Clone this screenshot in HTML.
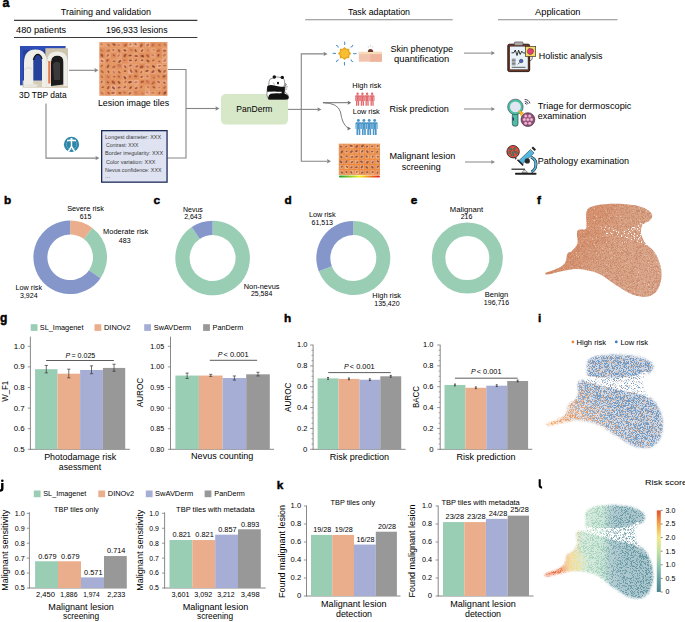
<!DOCTYPE html>
<html><head><meta charset="utf-8"><style>
html,body{margin:0;padding:0;background:#fff;}
svg{display:block;}
text{font-family:"Liberation Sans", sans-serif;}
</style></head><body>
<svg width="685" height="622" viewBox="0 0 685 622">
<rect width="685" height="622" fill="#fff"/>
<text x="2.40" y="7.00" font-size="12.5" font-weight="bold" fill="#000" stroke="#000" stroke-width="0.45">a</text>
<text x="60.80" y="15.30" font-size="9" textLength="90.20" lengthAdjust="spacingAndGlyphs">Training and validation</text>
<line x1="14.00" y1="20.40" x2="197.40" y2="20.40" stroke="#3a3a3a" stroke-width="1.1"/>
<text x="16.10" y="32.60" font-size="9" textLength="50.10" lengthAdjust="spacingAndGlyphs">480 patients</text>
<text x="106.00" y="32.60" font-size="9" textLength="61.60" lengthAdjust="spacingAndGlyphs">196,933 lesions</text>
<line x1="14.00" y1="37.50" x2="197.40" y2="37.50" stroke="#3a3a3a" stroke-width="1.1"/>
<g>
<rect x="20.00" y="46.00" width="45.60" height="39.30" fill="#2f4db6"/>
<rect x="23.00" y="50.00" width="40.00" height="33.00" fill="#27409a"/>
<rect x="45.40" y="48.20" width="22.60" height="39.50" fill="#cfc5ae"/>
<rect x="22.70" y="80.50" width="45.30" height="7.20" fill="#d6cdb8"/>
<path d="M24,87 L24,63 Q24,49.4 35.5,49.4 Q46.8,49.4 46.8,62 L46.8,87 L42,87 L42,62 Q42,54.5 37.6,54.5 Q33.3,54.5 33.3,62 L33.3,87 Z" fill="#efeee9"/>
<path d="M33.4,60 Q35,53.5 39,54.6 Q41.5,55.8 42,59" fill="none" stroke="#151515" stroke-width="1.3"/>
<path d="M24.2,70 Q28,66 32,69" fill="none" stroke="#c8c6c0" stroke-width="0.6"/>
<ellipse cx="31" cy="85.5" rx="7" ry="1.6" fill="#e8e6e0"/>
<path d="M51,86 L51,62 Q51,55.5 57.3,55.5 Q63.5,55.5 63.5,62 L63.5,84.5 Z" fill="#1b1b1b"/>
<path d="M53,64 Q56,60 60,63 L60,80 L54,80 Z" fill="#3a3a3a"/>
<path d="M47,87 L47,62 Q47,51.6 57.3,51.6 Q67.6,51.6 67.6,62 L67.6,86 L63.5,86 L63.5,62 Q63.5,55.5 57.3,55.5 Q51,55.5 51,62 L51,87 Z" fill="#eeede8"/>
<rect x="48.20" y="61.00" width="2.20" height="22.50" fill="#e47c52"/>
</g>
<line x1="69.00" y1="70.30" x2="95.00" y2="70.30" stroke="#858585" stroke-width="1.1"/>
<path d="M98.50,70.30 L94.50,72.50 L94.98,70.30 L94.50,68.10 Z" fill="#858585"/>
<text x="19.00" y="98.30" font-size="9" textLength="47.60" lengthAdjust="spacingAndGlyphs">3D TBP data</text>
<defs><filter id="blr" x="-10%" y="-10%" width="120%" height="120%"><feGaussianBlur stdDeviation="0.45"/></filter></defs>
<g>
<rect x="99.40" y="42.10" width="68.00" height="53.60" fill="#e39764"/>
<g filter="url(#blr)">
<rect x="99.75" y="42.45" width="4.97" height="4.66" fill="#eaa676"/>
<rect x="99.75" y="47.81" width="4.97" height="4.66" fill="#e29060"/>
<rect x="99.75" y="53.17" width="4.97" height="4.66" fill="#de8c5c"/>
<rect x="99.75" y="58.53" width="4.97" height="4.66" fill="#ecae8c"/>
<rect x="99.75" y="63.89" width="4.97" height="4.66" fill="#e69c6a"/>
<rect x="99.75" y="69.25" width="4.97" height="4.66" fill="#e69c6a"/>
<rect x="99.75" y="74.61" width="4.97" height="4.66" fill="#e49866"/>
<rect x="99.75" y="79.97" width="4.97" height="4.66" fill="#e8a27a"/>
<rect x="99.75" y="85.33" width="4.97" height="4.66" fill="#e69c6a"/>
<rect x="99.75" y="90.69" width="4.97" height="4.66" fill="#eaa676"/>
<rect x="105.42" y="42.45" width="4.97" height="4.66" fill="#e8a27a"/>
<rect x="105.42" y="47.81" width="4.97" height="4.66" fill="#e69c6a"/>
<rect x="105.42" y="53.17" width="4.97" height="4.66" fill="#e8a27a"/>
<rect x="105.42" y="58.53" width="4.97" height="4.66" fill="#e29060"/>
<rect x="105.42" y="63.89" width="4.97" height="4.66" fill="#e69c6a"/>
<rect x="105.42" y="69.25" width="4.97" height="4.66" fill="#e69c6a"/>
<rect x="105.42" y="74.61" width="4.97" height="4.66" fill="#de8c5c"/>
<rect x="105.42" y="79.97" width="4.97" height="4.66" fill="#de8c5c"/>
<rect x="105.42" y="85.33" width="4.97" height="4.66" fill="#e69c6a"/>
<rect x="105.42" y="90.69" width="4.97" height="4.66" fill="#e29060"/>
<rect x="111.08" y="42.45" width="4.97" height="4.66" fill="#e69c6a"/>
<rect x="111.08" y="47.81" width="4.97" height="4.66" fill="#e8a27a"/>
<rect x="111.08" y="53.17" width="4.97" height="4.66" fill="#de8c5c"/>
<rect x="111.08" y="58.53" width="4.97" height="4.66" fill="#e69c6a"/>
<rect x="111.08" y="63.89" width="4.97" height="4.66" fill="#e49866"/>
<rect x="111.08" y="69.25" width="4.97" height="4.66" fill="#e8a27a"/>
<rect x="111.08" y="74.61" width="4.97" height="4.66" fill="#e69c6a"/>
<rect x="111.08" y="79.97" width="4.97" height="4.66" fill="#e29060"/>
<rect x="111.08" y="85.33" width="4.97" height="4.66" fill="#ecae8c"/>
<rect x="111.08" y="90.69" width="4.97" height="4.66" fill="#ecae8c"/>
<rect x="116.75" y="42.45" width="4.97" height="4.66" fill="#e8a27a"/>
<rect x="116.75" y="47.81" width="4.97" height="4.66" fill="#e69c6a"/>
<rect x="116.75" y="53.17" width="4.97" height="4.66" fill="#e8a27a"/>
<rect x="116.75" y="58.53" width="4.97" height="4.66" fill="#e8a27a"/>
<rect x="116.75" y="63.89" width="4.97" height="4.66" fill="#de8c5c"/>
<rect x="116.75" y="69.25" width="4.97" height="4.66" fill="#e69c6a"/>
<rect x="116.75" y="74.61" width="4.97" height="4.66" fill="#e29060"/>
<rect x="116.75" y="79.97" width="4.97" height="4.66" fill="#e69c6a"/>
<rect x="116.75" y="85.33" width="4.97" height="4.66" fill="#e8a27a"/>
<rect x="116.75" y="90.69" width="4.97" height="4.66" fill="#e49866"/>
<rect x="122.42" y="42.45" width="4.97" height="4.66" fill="#e29060"/>
<rect x="122.42" y="47.81" width="4.97" height="4.66" fill="#eaa676"/>
<rect x="122.42" y="53.17" width="4.97" height="4.66" fill="#de8c5c"/>
<rect x="122.42" y="58.53" width="4.97" height="4.66" fill="#e29060"/>
<rect x="122.42" y="63.89" width="4.97" height="4.66" fill="#e8a27a"/>
<rect x="122.42" y="69.25" width="4.97" height="4.66" fill="#e69c6a"/>
<rect x="122.42" y="74.61" width="4.97" height="4.66" fill="#e8a27a"/>
<rect x="122.42" y="79.97" width="4.97" height="4.66" fill="#eaa676"/>
<rect x="122.42" y="85.33" width="4.97" height="4.66" fill="#e8a27a"/>
<rect x="122.42" y="90.69" width="4.97" height="4.66" fill="#e49866"/>
<rect x="128.08" y="42.45" width="4.97" height="4.66" fill="#ecae8c"/>
<rect x="128.08" y="47.81" width="4.97" height="4.66" fill="#e29060"/>
<rect x="128.08" y="53.17" width="4.97" height="4.66" fill="#e69c6a"/>
<rect x="128.08" y="58.53" width="4.97" height="4.66" fill="#e8a27a"/>
<rect x="128.08" y="63.89" width="4.97" height="4.66" fill="#e8a27a"/>
<rect x="128.08" y="69.25" width="4.97" height="4.66" fill="#ecae8c"/>
<rect x="128.08" y="74.61" width="4.97" height="4.66" fill="#e29060"/>
<rect x="128.08" y="79.97" width="4.97" height="4.66" fill="#eaa676"/>
<rect x="128.08" y="85.33" width="4.97" height="4.66" fill="#e69c6a"/>
<rect x="128.08" y="90.69" width="4.97" height="4.66" fill="#e8a27a"/>
<rect x="133.75" y="42.45" width="4.97" height="4.66" fill="#ecae8c"/>
<rect x="133.75" y="47.81" width="4.97" height="4.66" fill="#e69c6a"/>
<rect x="133.75" y="53.17" width="4.97" height="4.66" fill="#e8a27a"/>
<rect x="133.75" y="58.53" width="4.97" height="4.66" fill="#e69c6a"/>
<rect x="133.75" y="63.89" width="4.97" height="4.66" fill="#e8a27a"/>
<rect x="133.75" y="69.25" width="4.97" height="4.66" fill="#e29060"/>
<rect x="133.75" y="74.61" width="4.97" height="4.66" fill="#de8c5c"/>
<rect x="133.75" y="79.97" width="4.97" height="4.66" fill="#ecae8c"/>
<rect x="133.75" y="85.33" width="4.97" height="4.66" fill="#e8a27a"/>
<rect x="133.75" y="90.69" width="4.97" height="4.66" fill="#de8c5c"/>
<rect x="139.42" y="42.45" width="4.97" height="4.66" fill="#e49866"/>
<rect x="139.42" y="47.81" width="4.97" height="4.66" fill="#eaa676"/>
<rect x="139.42" y="53.17" width="4.97" height="4.66" fill="#de8c5c"/>
<rect x="139.42" y="58.53" width="4.97" height="4.66" fill="#e8a27a"/>
<rect x="139.42" y="63.89" width="4.97" height="4.66" fill="#de8c5c"/>
<rect x="139.42" y="69.25" width="4.97" height="4.66" fill="#eaa676"/>
<rect x="139.42" y="74.61" width="4.97" height="4.66" fill="#eaa676"/>
<rect x="139.42" y="79.97" width="4.97" height="4.66" fill="#e29060"/>
<rect x="139.42" y="85.33" width="4.97" height="4.66" fill="#e49866"/>
<rect x="139.42" y="90.69" width="4.97" height="4.66" fill="#e29060"/>
<rect x="145.08" y="42.45" width="4.97" height="4.66" fill="#ecae8c"/>
<rect x="145.08" y="47.81" width="4.97" height="4.66" fill="#e49866"/>
<rect x="145.08" y="53.17" width="4.97" height="4.66" fill="#e29060"/>
<rect x="145.08" y="58.53" width="4.97" height="4.66" fill="#e69c6a"/>
<rect x="145.08" y="63.89" width="4.97" height="4.66" fill="#e8a27a"/>
<rect x="145.08" y="69.25" width="4.97" height="4.66" fill="#eaa676"/>
<rect x="145.08" y="74.61" width="4.97" height="4.66" fill="#e8a27a"/>
<rect x="145.08" y="79.97" width="4.97" height="4.66" fill="#de8c5c"/>
<rect x="145.08" y="85.33" width="4.97" height="4.66" fill="#eaa676"/>
<rect x="145.08" y="90.69" width="4.97" height="4.66" fill="#ecae8c"/>
<rect x="150.75" y="42.45" width="4.97" height="4.66" fill="#de8c5c"/>
<rect x="150.75" y="47.81" width="4.97" height="4.66" fill="#eaa676"/>
<rect x="150.75" y="53.17" width="4.97" height="4.66" fill="#e8a27a"/>
<rect x="150.75" y="58.53" width="4.97" height="4.66" fill="#e69c6a"/>
<rect x="150.75" y="63.89" width="4.97" height="4.66" fill="#e69c6a"/>
<rect x="150.75" y="69.25" width="4.97" height="4.66" fill="#e8a27a"/>
<rect x="150.75" y="74.61" width="4.97" height="4.66" fill="#de8c5c"/>
<rect x="150.75" y="79.97" width="4.97" height="4.66" fill="#e29060"/>
<rect x="150.75" y="85.33" width="4.97" height="4.66" fill="#e49866"/>
<rect x="150.75" y="90.69" width="4.97" height="4.66" fill="#eaa676"/>
<rect x="156.42" y="42.45" width="4.97" height="4.66" fill="#e29060"/>
<rect x="156.42" y="47.81" width="4.97" height="4.66" fill="#de8c5c"/>
<rect x="156.42" y="53.17" width="4.97" height="4.66" fill="#de8c5c"/>
<rect x="156.42" y="58.53" width="4.97" height="4.66" fill="#e69c6a"/>
<rect x="156.42" y="63.89" width="4.97" height="4.66" fill="#ecae8c"/>
<rect x="156.42" y="69.25" width="4.97" height="4.66" fill="#e69c6a"/>
<rect x="156.42" y="74.61" width="4.97" height="4.66" fill="#e49866"/>
<rect x="156.42" y="79.97" width="4.97" height="4.66" fill="#e8a27a"/>
<rect x="156.42" y="85.33" width="4.97" height="4.66" fill="#e8a27a"/>
<rect x="156.42" y="90.69" width="4.97" height="4.66" fill="#e49866"/>
<rect x="162.08" y="42.45" width="4.97" height="4.66" fill="#e49866"/>
<rect x="162.08" y="47.81" width="4.97" height="4.66" fill="#eaa676"/>
<rect x="162.08" y="53.17" width="4.97" height="4.66" fill="#eaa676"/>
<rect x="162.08" y="58.53" width="4.97" height="4.66" fill="#ecae8c"/>
<rect x="162.08" y="63.89" width="4.97" height="4.66" fill="#eaa676"/>
<rect x="162.08" y="69.25" width="4.97" height="4.66" fill="#e8a27a"/>
<rect x="162.08" y="74.61" width="4.97" height="4.66" fill="#de8c5c"/>
<rect x="162.08" y="79.97" width="4.97" height="4.66" fill="#e8a27a"/>
<rect x="162.08" y="85.33" width="4.97" height="4.66" fill="#e49866"/>
<rect x="162.08" y="90.69" width="4.97" height="4.66" fill="#de8c5c"/>
<ellipse cx="101.63" cy="44.21" rx="1.42" ry="0.82" transform="rotate(20 101.63 44.21)" fill="#c06a50" opacity="0.75"/>
<ellipse cx="101.62" cy="50.42" rx="1.76" ry="1.01" transform="rotate(39 101.62 50.42)" fill="#c06a50" opacity="0.75"/>
<ellipse cx="101.93" cy="55.34" rx="1.78" ry="1.03" transform="rotate(53 101.93 55.34)" fill="#8a3a25" opacity="0.75"/>
<ellipse cx="102.03" cy="61.02" rx="1.62" ry="0.93" transform="rotate(32 102.03 61.02)" fill="#a0482c" opacity="0.75"/>
<ellipse cx="101.71" cy="65.87" rx="1.53" ry="0.88" transform="rotate(-50 101.71 65.87)" fill="#b05a3a" opacity="0.75"/>
<ellipse cx="102.16" cy="71.65" rx="1.97" ry="1.14" transform="rotate(44 102.16 71.65)" fill="#b05a3a" opacity="0.75"/>
<ellipse cx="101.92" cy="76.82" rx="1.50" ry="0.86" transform="rotate(55 101.92 76.82)" fill="#b05a3a" opacity="0.75"/>
<ellipse cx="101.74" cy="81.85" rx="1.38" ry="0.80" transform="rotate(-59 101.74 81.85)" fill="#a0482c" opacity="0.75"/>
<ellipse cx="102.70" cy="87.22" rx="1.43" ry="0.82" transform="rotate(-10 102.70 87.22)" fill="#a0482c" opacity="0.75"/>
<ellipse cx="102.05" cy="93.11" rx="2.04" ry="1.18" transform="rotate(43 102.05 93.11)" fill="#c06a50" opacity="0.75"/>
<ellipse cx="108.53" cy="45.00" rx="1.84" ry="1.06" transform="rotate(48 108.53 45.00)" fill="#b05a3a" opacity="0.75"/>
<ellipse cx="108.29" cy="50.66" rx="1.90" ry="1.09" transform="rotate(-12 108.29 50.66)" fill="#b05a3a" opacity="0.75"/>
<ellipse cx="107.75" cy="55.47" rx="1.53" ry="0.89" transform="rotate(-52 107.75 55.47)" fill="#a0482c" opacity="0.75"/>
<ellipse cx="107.49" cy="60.39" rx="1.48" ry="0.85" transform="rotate(-48 107.49 60.39)" fill="#8a3a25" opacity="0.75"/>
<ellipse cx="107.99" cy="66.27" rx="2.03" ry="1.17" transform="rotate(-57 107.99 66.27)" fill="#94402a" opacity="0.75"/>
<ellipse cx="108.42" cy="71.74" rx="1.31" ry="0.75" transform="rotate(55 108.42 71.74)" fill="#7a3020" opacity="0.75"/>
<ellipse cx="108.04" cy="76.90" rx="1.27" ry="0.74" transform="rotate(59 108.04 76.90)" fill="#b05a3a" opacity="0.75"/>
<ellipse cx="107.85" cy="82.28" rx="1.25" ry="0.72" transform="rotate(30 107.85 82.28)" fill="#8a3a25" opacity="0.75"/>
<ellipse cx="108.24" cy="87.63" rx="1.80" ry="1.04" transform="rotate(-57 108.24 87.63)" fill="#94402a" opacity="0.75"/>
<ellipse cx="108.53" cy="93.06" rx="1.30" ry="0.75" transform="rotate(50 108.53 93.06)" fill="#94402a" opacity="0.75"/>
<ellipse cx="113.93" cy="44.50" rx="1.76" ry="1.01" transform="rotate(24 113.93 44.50)" fill="#8a3a25" opacity="0.75"/>
<ellipse cx="113.23" cy="49.95" rx="1.32" ry="0.76" transform="rotate(4 113.23 49.95)" fill="#a0482c" opacity="0.75"/>
<ellipse cx="113.96" cy="55.26" rx="1.37" ry="0.79" transform="rotate(37 113.96 55.26)" fill="#a0482c" opacity="0.75"/>
<ellipse cx="114.01" cy="61.20" rx="1.38" ry="0.79" transform="rotate(-1 114.01 61.20)" fill="#94402a" opacity="0.75"/>
<ellipse cx="113.89" cy="66.91" rx="1.89" ry="1.09" transform="rotate(-29 113.89 66.91)" fill="#b05a3a" opacity="0.75"/>
<ellipse cx="113.84" cy="72.22" rx="1.58" ry="0.91" transform="rotate(59 113.84 72.22)" fill="#c06a50" opacity="0.75"/>
<ellipse cx="114.20" cy="76.75" rx="1.37" ry="0.79" transform="rotate(-4 114.20 76.75)" fill="#a0482c" opacity="0.75"/>
<ellipse cx="113.34" cy="82.28" rx="2.07" ry="1.19" transform="rotate(41 113.34 82.28)" fill="#94402a" opacity="0.75"/>
<ellipse cx="113.54" cy="87.87" rx="1.90" ry="1.09" transform="rotate(40 113.54 87.87)" fill="#8a3a25" opacity="0.75"/>
<ellipse cx="113.03" cy="92.86" rx="1.82" ry="1.05" transform="rotate(-3 113.03 92.86)" fill="#a0482c" opacity="0.75"/>
<ellipse cx="118.78" cy="45.18" rx="1.47" ry="0.85" transform="rotate(-12 118.78 45.18)" fill="#c06a50" opacity="0.75"/>
<ellipse cx="119.10" cy="50.77" rx="1.83" ry="1.06" transform="rotate(59 119.10 50.77)" fill="#a0482c" opacity="0.75"/>
<ellipse cx="118.57" cy="55.63" rx="1.59" ry="0.92" transform="rotate(-42 118.57 55.63)" fill="#c06a50" opacity="0.75"/>
<ellipse cx="119.69" cy="61.53" rx="1.77" ry="1.02" transform="rotate(-41 119.69 61.53)" fill="#7a3020" opacity="0.75"/>
<ellipse cx="119.30" cy="65.55" rx="1.90" ry="1.09" transform="rotate(18 119.30 65.55)" fill="#c06a50" opacity="0.75"/>
<ellipse cx="119.27" cy="72.19" rx="1.56" ry="0.90" transform="rotate(39 119.27 72.19)" fill="#a0482c" opacity="0.75"/>
<ellipse cx="118.83" cy="76.59" rx="1.44" ry="0.83" transform="rotate(32 118.83 76.59)" fill="#a0482c" opacity="0.75"/>
<ellipse cx="118.99" cy="82.36" rx="1.93" ry="1.11" transform="rotate(49 118.99 82.36)" fill="#8a3a25" opacity="0.75"/>
<ellipse cx="119.03" cy="87.60" rx="1.70" ry="0.98" transform="rotate(-10 119.03 87.60)" fill="#94402a" opacity="0.75"/>
<ellipse cx="119.82" cy="93.02" rx="1.65" ry="0.95" transform="rotate(1 119.82 93.02)" fill="#94402a" opacity="0.75"/>
<ellipse cx="125.42" cy="45.17" rx="1.72" ry="0.99" transform="rotate(-39 125.42 45.17)" fill="#a0482c" opacity="0.75"/>
<ellipse cx="124.86" cy="50.46" rx="1.68" ry="0.97" transform="rotate(22 124.86 50.46)" fill="#7a3020" opacity="0.75"/>
<ellipse cx="124.94" cy="55.48" rx="1.88" ry="1.08" transform="rotate(-53 124.94 55.48)" fill="#94402a" opacity="0.75"/>
<ellipse cx="124.47" cy="60.22" rx="1.26" ry="0.73" transform="rotate(7 124.47 60.22)" fill="#b05a3a" opacity="0.75"/>
<ellipse cx="125.26" cy="66.80" rx="1.57" ry="0.91" transform="rotate(57 125.26 66.80)" fill="#94402a" opacity="0.75"/>
<ellipse cx="125.05" cy="71.16" rx="1.42" ry="0.82" transform="rotate(4 125.05 71.16)" fill="#94402a" opacity="0.75"/>
<ellipse cx="124.87" cy="77.56" rx="1.81" ry="1.04" transform="rotate(51 124.87 77.56)" fill="#7a3020" opacity="0.75"/>
<ellipse cx="125.45" cy="81.88" rx="1.58" ry="0.91" transform="rotate(-45 125.45 81.88)" fill="#b05a3a" opacity="0.75"/>
<ellipse cx="124.82" cy="87.06" rx="1.39" ry="0.80" transform="rotate(-34 124.82 87.06)" fill="#8a3a25" opacity="0.75"/>
<ellipse cx="124.62" cy="92.49" rx="1.88" ry="1.08" transform="rotate(17 124.62 92.49)" fill="#c06a50" opacity="0.75"/>
<ellipse cx="130.38" cy="44.43" rx="1.29" ry="0.75" transform="rotate(-34 130.38 44.43)" fill="#b05a3a" opacity="0.75"/>
<ellipse cx="131.20" cy="50.00" rx="1.61" ry="0.93" transform="rotate(40 131.20 50.00)" fill="#c06a50" opacity="0.75"/>
<ellipse cx="130.09" cy="55.40" rx="1.64" ry="0.95" transform="rotate(-9 130.09 55.40)" fill="#7a3020" opacity="0.75"/>
<ellipse cx="130.37" cy="60.29" rx="1.50" ry="0.87" transform="rotate(6 130.37 60.29)" fill="#7a3020" opacity="0.75"/>
<ellipse cx="130.48" cy="65.55" rx="1.47" ry="0.85" transform="rotate(-25 130.48 65.55)" fill="#94402a" opacity="0.75"/>
<ellipse cx="131.21" cy="71.04" rx="2.01" ry="1.16" transform="rotate(57 131.21 71.04)" fill="#a0482c" opacity="0.75"/>
<ellipse cx="130.01" cy="76.61" rx="1.21" ry="0.70" transform="rotate(-28 130.01 76.61)" fill="#a0482c" opacity="0.75"/>
<ellipse cx="130.05" cy="82.19" rx="2.00" ry="1.15" transform="rotate(-11 130.05 82.19)" fill="#7a3020" opacity="0.75"/>
<ellipse cx="130.62" cy="87.68" rx="1.62" ry="0.93" transform="rotate(-49 130.62 87.68)" fill="#7a3020" opacity="0.75"/>
<ellipse cx="129.95" cy="93.28" rx="1.56" ry="0.90" transform="rotate(-28 129.95 93.28)" fill="#8a3a25" opacity="0.75"/>
<ellipse cx="135.56" cy="44.20" rx="1.41" ry="0.81" transform="rotate(43 135.56 44.20)" fill="#94402a" opacity="0.75"/>
<ellipse cx="135.63" cy="50.65" rx="1.58" ry="0.91" transform="rotate(59 135.63 50.65)" fill="#7a3020" opacity="0.75"/>
<ellipse cx="136.12" cy="56.08" rx="1.74" ry="1.00" transform="rotate(3 136.12 56.08)" fill="#8a3a25" opacity="0.75"/>
<ellipse cx="135.87" cy="60.31" rx="1.32" ry="0.76" transform="rotate(-38 135.87 60.31)" fill="#8a3a25" opacity="0.75"/>
<ellipse cx="136.84" cy="66.40" rx="1.65" ry="0.95" transform="rotate(-25 136.84 66.40)" fill="#a0482c" opacity="0.75"/>
<ellipse cx="136.23" cy="71.13" rx="1.49" ry="0.86" transform="rotate(59 136.23 71.13)" fill="#8a3a25" opacity="0.75"/>
<ellipse cx="135.59" cy="76.27" rx="1.63" ry="0.94" transform="rotate(2 135.59 76.27)" fill="#a0482c" opacity="0.75"/>
<ellipse cx="135.88" cy="82.23" rx="1.77" ry="1.02" transform="rotate(-8 135.88 82.23)" fill="#c06a50" opacity="0.75"/>
<ellipse cx="136.23" cy="88.13" rx="1.53" ry="0.88" transform="rotate(-23 136.23 88.13)" fill="#94402a" opacity="0.75"/>
<ellipse cx="135.83" cy="92.64" rx="1.35" ry="0.78" transform="rotate(27 135.83 92.64)" fill="#c06a50" opacity="0.75"/>
<ellipse cx="141.40" cy="45.47" rx="2.06" ry="1.19" transform="rotate(-58 141.40 45.47)" fill="#a0482c" opacity="0.75"/>
<ellipse cx="142.08" cy="50.67" rx="1.56" ry="0.90" transform="rotate(-50 142.08 50.67)" fill="#8a3a25" opacity="0.75"/>
<ellipse cx="142.38" cy="56.02" rx="1.78" ry="1.03" transform="rotate(12 142.38 56.02)" fill="#7a3020" opacity="0.75"/>
<ellipse cx="142.17" cy="60.22" rx="1.34" ry="0.77" transform="rotate(-7 142.17 60.22)" fill="#7a3020" opacity="0.75"/>
<ellipse cx="141.57" cy="66.87" rx="2.06" ry="1.19" transform="rotate(-21 141.57 66.87)" fill="#94402a" opacity="0.75"/>
<ellipse cx="141.25" cy="72.12" rx="1.37" ry="0.79" transform="rotate(-60 141.25 72.12)" fill="#a0482c" opacity="0.75"/>
<ellipse cx="141.73" cy="76.90" rx="1.63" ry="0.94" transform="rotate(-30 141.73 76.90)" fill="#a0482c" opacity="0.75"/>
<ellipse cx="142.29" cy="81.73" rx="1.91" ry="1.10" transform="rotate(-12 142.29 81.73)" fill="#a0482c" opacity="0.75"/>
<ellipse cx="141.26" cy="86.99" rx="1.45" ry="0.83" transform="rotate(-50 141.26 86.99)" fill="#a0482c" opacity="0.75"/>
<ellipse cx="142.54" cy="93.51" rx="1.31" ry="0.76" transform="rotate(34 142.54 93.51)" fill="#c06a50" opacity="0.75"/>
<ellipse cx="147.70" cy="45.15" rx="1.83" ry="1.05" transform="rotate(-42 147.70 45.15)" fill="#b05a3a" opacity="0.75"/>
<ellipse cx="147.88" cy="50.34" rx="1.21" ry="0.70" transform="rotate(47 147.88 50.34)" fill="#c06a50" opacity="0.75"/>
<ellipse cx="147.74" cy="55.83" rx="1.91" ry="1.10" transform="rotate(49 147.74 55.83)" fill="#a0482c" opacity="0.75"/>
<ellipse cx="147.92" cy="60.96" rx="1.91" ry="1.10" transform="rotate(39 147.92 60.96)" fill="#8a3a25" opacity="0.75"/>
<ellipse cx="147.68" cy="66.77" rx="1.79" ry="1.03" transform="rotate(17 147.68 66.77)" fill="#c06a50" opacity="0.75"/>
<ellipse cx="146.99" cy="70.94" rx="1.75" ry="1.01" transform="rotate(-15 146.99 70.94)" fill="#8a3a25" opacity="0.75"/>
<ellipse cx="147.50" cy="76.31" rx="1.19" ry="0.68" transform="rotate(22 147.50 76.31)" fill="#94402a" opacity="0.75"/>
<ellipse cx="147.55" cy="81.60" rx="1.90" ry="1.09" transform="rotate(52 147.55 81.60)" fill="#c06a50" opacity="0.75"/>
<ellipse cx="148.12" cy="87.09" rx="1.65" ry="0.95" transform="rotate(28 148.12 87.09)" fill="#c06a50" opacity="0.75"/>
<ellipse cx="147.22" cy="92.42" rx="1.41" ry="0.81" transform="rotate(31 147.22 92.42)" fill="#c06a50" opacity="0.75"/>
<ellipse cx="152.86" cy="44.99" rx="1.59" ry="0.92" transform="rotate(-51 152.86 44.99)" fill="#b05a3a" opacity="0.75"/>
<ellipse cx="153.81" cy="49.84" rx="1.21" ry="0.70" transform="rotate(17 153.81 49.84)" fill="#c06a50" opacity="0.75"/>
<ellipse cx="152.64" cy="55.01" rx="1.40" ry="0.81" transform="rotate(23 152.64 55.01)" fill="#c06a50" opacity="0.75"/>
<ellipse cx="153.40" cy="60.35" rx="1.61" ry="0.93" transform="rotate(-28 153.40 60.35)" fill="#b05a3a" opacity="0.75"/>
<ellipse cx="153.47" cy="66.49" rx="1.78" ry="1.03" transform="rotate(25 153.47 66.49)" fill="#7a3020" opacity="0.75"/>
<ellipse cx="152.93" cy="71.53" rx="1.87" ry="1.08" transform="rotate(-36 152.93 71.53)" fill="#94402a" opacity="0.75"/>
<ellipse cx="153.90" cy="77.55" rx="1.19" ry="0.68" transform="rotate(-51 153.90 77.55)" fill="#b05a3a" opacity="0.75"/>
<ellipse cx="153.24" cy="82.99" rx="2.07" ry="1.20" transform="rotate(-35 153.24 82.99)" fill="#b05a3a" opacity="0.75"/>
<ellipse cx="153.86" cy="87.25" rx="1.70" ry="0.98" transform="rotate(30 153.86 87.25)" fill="#a0482c" opacity="0.75"/>
<ellipse cx="152.90" cy="92.82" rx="1.72" ry="0.99" transform="rotate(1 152.90 92.82)" fill="#c06a50" opacity="0.75"/>
<ellipse cx="159.44" cy="45.06" rx="1.38" ry="0.80" transform="rotate(-13 159.44 45.06)" fill="#b05a3a" opacity="0.75"/>
<ellipse cx="158.42" cy="50.77" rx="1.79" ry="1.03" transform="rotate(-24 158.42 50.77)" fill="#b05a3a" opacity="0.75"/>
<ellipse cx="158.40" cy="55.28" rx="1.46" ry="0.84" transform="rotate(-60 158.40 55.28)" fill="#7a3020" opacity="0.75"/>
<ellipse cx="159.25" cy="61.33" rx="1.28" ry="0.74" transform="rotate(26 159.25 61.33)" fill="#a0482c" opacity="0.75"/>
<ellipse cx="159.46" cy="65.93" rx="1.51" ry="0.87" transform="rotate(-13 159.46 65.93)" fill="#b05a3a" opacity="0.75"/>
<ellipse cx="159.42" cy="70.99" rx="2.01" ry="1.16" transform="rotate(43 159.42 70.99)" fill="#7a3020" opacity="0.75"/>
<ellipse cx="158.59" cy="76.31" rx="1.77" ry="1.02" transform="rotate(52 158.59 76.31)" fill="#c06a50" opacity="0.75"/>
<ellipse cx="158.55" cy="81.97" rx="1.63" ry="0.94" transform="rotate(33 158.55 81.97)" fill="#a0482c" opacity="0.75"/>
<ellipse cx="159.30" cy="87.56" rx="1.20" ry="0.69" transform="rotate(-12 159.30 87.56)" fill="#c06a50" opacity="0.75"/>
<ellipse cx="159.43" cy="93.10" rx="1.36" ry="0.78" transform="rotate(-54 159.43 93.10)" fill="#8a3a25" opacity="0.75"/>
<ellipse cx="164.89" cy="44.71" rx="1.85" ry="1.07" transform="rotate(44 164.89 44.71)" fill="#c06a50" opacity="0.75"/>
<ellipse cx="164.55" cy="50.72" rx="1.67" ry="0.96" transform="rotate(-3 164.55 50.72)" fill="#a0482c" opacity="0.75"/>
<ellipse cx="164.35" cy="55.22" rx="1.84" ry="1.06" transform="rotate(-29 164.35 55.22)" fill="#c06a50" opacity="0.75"/>
<ellipse cx="164.79" cy="60.58" rx="1.68" ry="0.97" transform="rotate(-46 164.79 60.58)" fill="#b05a3a" opacity="0.75"/>
<ellipse cx="164.77" cy="65.63" rx="1.63" ry="0.94" transform="rotate(6 164.77 65.63)" fill="#b05a3a" opacity="0.75"/>
<ellipse cx="164.50" cy="71.35" rx="1.86" ry="1.07" transform="rotate(-43 164.50 71.35)" fill="#b05a3a" opacity="0.75"/>
<ellipse cx="164.14" cy="76.37" rx="1.48" ry="0.85" transform="rotate(-22 164.14 76.37)" fill="#8a3a25" opacity="0.75"/>
<ellipse cx="164.38" cy="82.73" rx="1.35" ry="0.78" transform="rotate(30 164.38 82.73)" fill="#8a3a25" opacity="0.75"/>
<ellipse cx="164.44" cy="87.54" rx="1.65" ry="0.95" transform="rotate(-28 164.44 87.54)" fill="#b05a3a" opacity="0.75"/>
<ellipse cx="164.92" cy="93.02" rx="1.69" ry="0.98" transform="rotate(-45 164.92 93.02)" fill="#7a3020" opacity="0.75"/>
</g></g>
<text x="97.90" y="105.70" font-size="9" textLength="71.20" lengthAdjust="spacingAndGlyphs">Lesion image tiles</text>
<path d="M168,69.5 L186,69.5 L186,158 L167.4,158" fill="none" stroke="#858585" stroke-width="1.1"/>
<line x1="186.00" y1="108.50" x2="216.00" y2="108.50" stroke="#858585" stroke-width="1.1"/>
<path d="M219.50,108.50 L215.50,110.70 L215.98,108.50 L215.50,106.30 Z" fill="#858585"/>
<path d="M46,103.4 L46,158.1 L96,158.1" fill="none" stroke="#858585" stroke-width="1.1"/>
<path d="M99.50,158.10 L95.50,160.30 L95.98,158.10 L95.50,155.90 Z" fill="#858585"/>
<g>
<circle cx="71.5" cy="144.4" r="7.6" fill="#2f86a8"/>
<circle cx="71.5" cy="144.4" r="5.2" fill="none" stroke="#7cc0d4" stroke-width="0.6"/>
<path d="M71.5,138.5 L71.5,147 M67,140.5 L76,140.5 M71.5,146.5 L68.3,151.5 M71.5,146.5 L74.7,151.5" stroke="#fff" stroke-width="1.4" fill="none"/>
<circle cx="71.5" cy="139" r="1.1" fill="#fff"/>
</g>
<rect x="101.65" y="130.65" width="65.40" height="51.50" fill="#dfe3f1" stroke="#1c2c5a" stroke-width="1.3"/>
<text x="105.10" y="138.90" font-size="5.6" textLength="56.00" lengthAdjust="spacingAndGlyphs" fill="#3a3a3a">Longest diameter: XXX</text>
<text x="106.00" y="147.00" font-size="5.6" textLength="32.50" lengthAdjust="spacingAndGlyphs" fill="#3a3a3a">Contrast: XXX</text>
<text x="105.10" y="155.40" font-size="5.6" textLength="58.00" lengthAdjust="spacingAndGlyphs" fill="#3a3a3a">Border irregularity: XXX</text>
<text x="106.00" y="163.80" font-size="5.6" textLength="49.50" lengthAdjust="spacingAndGlyphs" fill="#3a3a3a">Color variation: XXX</text>
<text x="105.10" y="172.00" font-size="5.6" textLength="56.50" lengthAdjust="spacingAndGlyphs" fill="#3a3a3a">Nevus confidence: XXX</text>
<text x="105.10" y="178.30" font-size="5.6" textLength="5.00" lengthAdjust="spacingAndGlyphs" fill="#3a3a3a">...</text>
<rect x="220.9" y="94" width="67.2" height="30.6" rx="5" ry="5" fill="#d6e8c8"/>
<text x="254.40" y="111.70" font-size="9.2" text-anchor="middle" textLength="36.10" lengthAdjust="spacingAndGlyphs">PanDerm</text>
<g>
<path d="M270.2,79 Q276,75.6 282.8,77.6 Q285.6,80.5 284.2,86 L284.8,92 Q288.8,94 288.6,98.3 Q287.8,99.6 284.5,99.4 L270,99.4 Q266.8,98.6 266.9,94.5 Q266.6,88.5 268.8,84.5 Q268.6,81 270.2,79 Z" fill="#fff" stroke="#111" stroke-width="0.45"/>
<circle cx="274.3" cy="77.1" r="1.75" fill="#111"/><circle cx="282.3" cy="77.4" r="1.7" fill="#111"/>
<ellipse cx="278" cy="83.1" rx="1.05" ry="1.35" fill="#111"/>
<path d="M273.2,82.6 Q273.8,84 274.6,84.2" stroke="#111" stroke-width="0.4" fill="none"/>
<path d="M267.3,86.2 Q270.5,84.4 274.5,85.6 Q279.5,87.4 284.4,86.4 L284.6,91.2 Q280,92.2 275,91.6 L267.2,91.8 Q266.9,89 267.3,86.2 Z" fill="#111"/>
<path d="M268.2,99.4 Q267.6,93.6 273,93.2 Q280,92.6 284.2,93.6 Q288.9,94.6 288.6,98.3 Q288.2,99.5 285,99.5 Z" fill="#111"/>
<rect x="281.6" y="87" width="3" height="8.5" rx="1" fill="#111"/>
<path d="M283.8,88.5 L286.8,84 M284.2,87.8 L287.8,86.6 M284,88.8 L287.2,89.2 M285.3,86 L285.6,83" stroke="#222" stroke-width="0.45" fill="none"/>
<path d="M271.5,93.2 Q276,92.7 280,93.1" stroke="#fff" stroke-width="0.5" fill="none"/>
</g>
<line x1="288.10" y1="109.40" x2="318.00" y2="109.40" stroke="#858585" stroke-width="1.1"/>
<path d="M321.50,109.40 L317.50,111.60 L317.98,109.40 L317.50,107.20 Z" fill="#858585"/>
<path d="M324,53.9 L301.3,53.9 L301.3,161.2 L327.5,161.2" fill="none" stroke="#858585" stroke-width="1.1"/>
<path d="M327.60,53.90 L323.60,56.10 L324.08,53.90 L323.60,51.70 Z" fill="#858585"/>
<path d="M331.00,161.20 L327.00,163.40 L327.48,161.20 L327.00,159.00 Z" fill="#858585"/>
<text x="348.00" y="14.80" font-size="9" textLength="62.00" lengthAdjust="spacingAndGlyphs">Task adaptation</text>
<line x1="305.20" y1="19.70" x2="452.70" y2="19.70" stroke="#8a8a8a" stroke-width="1.1"/>
<text x="535.00" y="14.80" font-size="9" textLength="45.50" lengthAdjust="spacingAndGlyphs">Application</text>
<line x1="498.00" y1="19.70" x2="617.50" y2="19.70" stroke="#8a8a8a" stroke-width="1.1"/>
<g>
<polygon points="344.60,46.90 346.59,48.70 349.27,48.83 349.40,51.51 351.20,53.50 349.40,55.49 349.27,58.17 346.59,58.30 344.60,60.10 342.61,58.30 339.93,58.17 339.80,55.49 338.00,53.50 339.80,51.51 339.93,48.83 342.61,48.70" fill="#e3a622"/>
<circle cx="344.6" cy="53.5" r="4.3" fill="#f8bd30"/>
<path d="M344.60,44.50 Q345.10,43.25 344.60,42.00" fill="none" stroke="#3f8cc8" stroke-width="1.05" stroke-linecap="round"/>
<path d="M350.96,47.14 Q352.20,46.61 352.73,45.37" fill="none" stroke="#3f8cc8" stroke-width="1.05" stroke-linecap="round"/>
<path d="M353.60,53.50 Q354.85,54.00 356.10,53.50" fill="none" stroke="#3f8cc8" stroke-width="1.05" stroke-linecap="round"/>
<path d="M350.96,59.86 Q351.49,61.10 352.73,61.63" fill="none" stroke="#3f8cc8" stroke-width="1.05" stroke-linecap="round"/>
<path d="M344.60,62.50 Q344.10,63.75 344.60,65.00" fill="none" stroke="#3f8cc8" stroke-width="1.05" stroke-linecap="round"/>
<path d="M338.24,59.86 Q337.00,60.39 336.47,61.63" fill="none" stroke="#3f8cc8" stroke-width="1.05" stroke-linecap="round"/>
<path d="M335.60,53.50 Q334.35,53.00 333.10,53.50" fill="none" stroke="#3f8cc8" stroke-width="1.05" stroke-linecap="round"/>
<path d="M338.24,47.14 Q337.71,45.90 336.47,45.37" fill="none" stroke="#3f8cc8" stroke-width="1.05" stroke-linecap="round"/>
</g>
<rect x="358.80" y="51.90" width="23.10" height="9.80" fill="#f2c3ad"/>
<rect x="370.30" y="51.90" width="11.60" height="9.80" fill="#eeb49c"/>
<rect x="358.80" y="51.90" width="23.10" height="2.20" fill="#f6dcb8"/>
<path d="M367.8,52 Q367.8,49 370.5,49 Q373.2,49 373.2,52 Z" fill="#6a3a2a"/>
<path d="M368,46 L368.5,47.5 M370.5,45 L370.5,46.8 M373,46 L372.5,47.5" stroke="#c8b8d8" stroke-width="0.6"/>
<text x="390.40" y="52.20" font-size="9" textLength="62.60" lengthAdjust="spacingAndGlyphs">Skin phenotype</text>
<text x="394.00" y="62.20" font-size="9" textLength="55.30" lengthAdjust="spacingAndGlyphs">quantification</text>
<text x="352.30" y="87.70" font-size="7" textLength="28.90" lengthAdjust="spacingAndGlyphs">High risk</text>
<text x="352.80" y="114.20" font-size="7" textLength="27.00" lengthAdjust="spacingAndGlyphs">Low risk</text>
<g transform="translate(357.60,92.50) scale(1.000)" fill="#e2696d"><circle cx="0" cy="1.2" r="1.2"/><path d="M-1.7,2.7 L1.7,2.7 Q2.4,2.7 2.4,3.4 L2.4,8.4 L1.6,8.4 L1.6,13.3 L0.25,13.3 L0.25,8.7 L-0.25,8.7 L-0.25,13.3 L-1.6,13.3 L-1.6,8.4 L-2.4,8.4 L-2.4,3.4 Q-2.4,2.7 -1.7,2.7 Z"/><path d="M-1.45,4.2 L-1.45,8.6 M1.45,4.2 L1.45,8.6" stroke="#fff" stroke-width="0.35"/></g>
<g transform="translate(362.40,92.50) scale(1.000)" fill="#e2696d"><circle cx="0" cy="1.2" r="1.2"/><path d="M-1.7,2.7 L1.7,2.7 Q2.4,2.7 2.4,3.4 L2.4,8.4 L1.6,8.4 L1.6,13.3 L0.25,13.3 L0.25,8.7 L-0.25,8.7 L-0.25,13.3 L-1.6,13.3 L-1.6,8.4 L-2.4,8.4 L-2.4,3.4 Q-2.4,2.7 -1.7,2.7 Z"/><path d="M-1.45,4.2 L-1.45,8.6 M1.45,4.2 L1.45,8.6" stroke="#fff" stroke-width="0.35"/></g>
<g transform="translate(367.10,92.50) scale(1.000)" fill="#e2696d"><circle cx="0" cy="1.2" r="1.2"/><path d="M-1.7,2.7 L1.7,2.7 Q2.4,2.7 2.4,3.4 L2.4,8.4 L1.6,8.4 L1.6,13.3 L0.25,13.3 L0.25,8.7 L-0.25,8.7 L-0.25,13.3 L-1.6,13.3 L-1.6,8.4 L-2.4,8.4 L-2.4,3.4 Q-2.4,2.7 -1.7,2.7 Z"/><path d="M-1.45,4.2 L-1.45,8.6 M1.45,4.2 L1.45,8.6" stroke="#fff" stroke-width="0.35"/></g>
<g transform="translate(372.10,92.50) scale(1.000)" fill="#e2696d"><circle cx="0" cy="1.2" r="1.2"/><path d="M-1.7,2.7 L1.7,2.7 Q2.4,2.7 2.4,3.4 L2.4,8.4 L1.6,8.4 L1.6,13.3 L0.25,13.3 L0.25,8.7 L-0.25,8.7 L-0.25,13.3 L-1.6,13.3 L-1.6,8.4 L-2.4,8.4 L-2.4,3.4 Q-2.4,2.7 -1.7,2.7 Z"/><path d="M-1.45,4.2 L-1.45,8.6 M1.45,4.2 L1.45,8.6" stroke="#fff" stroke-width="0.35"/></g>
<g transform="translate(358.40,119.00) scale(1.203)" fill="#4a96c9"><circle cx="0" cy="1.2" r="1.2"/><path d="M-1.7,2.7 L1.7,2.7 Q2.4,2.7 2.4,3.4 L2.4,8.4 L1.6,8.4 L1.6,13.3 L0.25,13.3 L0.25,8.7 L-0.25,8.7 L-0.25,13.3 L-1.6,13.3 L-1.6,8.4 L-2.4,8.4 L-2.4,3.4 Q-2.4,2.7 -1.7,2.7 Z"/><path d="M-1.45,4.2 L-1.45,8.6 M1.45,4.2 L1.45,8.6" stroke="#fff" stroke-width="0.35"/></g>
<g transform="translate(363.90,119.00) scale(1.203)" fill="#4a96c9"><circle cx="0" cy="1.2" r="1.2"/><path d="M-1.7,2.7 L1.7,2.7 Q2.4,2.7 2.4,3.4 L2.4,8.4 L1.6,8.4 L1.6,13.3 L0.25,13.3 L0.25,8.7 L-0.25,8.7 L-0.25,13.3 L-1.6,13.3 L-1.6,8.4 L-2.4,8.4 L-2.4,3.4 Q-2.4,2.7 -1.7,2.7 Z"/><path d="M-1.45,4.2 L-1.45,8.6 M1.45,4.2 L1.45,8.6" stroke="#fff" stroke-width="0.35"/></g>
<g transform="translate(369.20,119.00) scale(1.203)" fill="#4a96c9"><circle cx="0" cy="1.2" r="1.2"/><path d="M-1.7,2.7 L1.7,2.7 Q2.4,2.7 2.4,3.4 L2.4,8.4 L1.6,8.4 L1.6,13.3 L0.25,13.3 L0.25,8.7 L-0.25,8.7 L-0.25,13.3 L-1.6,13.3 L-1.6,8.4 L-2.4,8.4 L-2.4,3.4 Q-2.4,2.7 -1.7,2.7 Z"/><path d="M-1.45,4.2 L-1.45,8.6 M1.45,4.2 L1.45,8.6" stroke="#fff" stroke-width="0.35"/></g>
<g transform="translate(374.70,119.00) scale(1.203)" fill="#4a96c9"><circle cx="0" cy="1.2" r="1.2"/><path d="M-1.7,2.7 L1.7,2.7 Q2.4,2.7 2.4,3.4 L2.4,8.4 L1.6,8.4 L1.6,13.3 L0.25,13.3 L0.25,8.7 L-0.25,8.7 L-0.25,13.3 L-1.6,13.3 L-1.6,8.4 L-2.4,8.4 L-2.4,3.4 Q-2.4,2.7 -1.7,2.7 Z"/><path d="M-1.45,4.2 L-1.45,8.6 M1.45,4.2 L1.45,8.6" stroke="#fff" stroke-width="0.35"/></g>
<line x1="322.90" y1="102.70" x2="348.00" y2="102.70" stroke="#6e6e6e" stroke-width="1.0"/>
<path d="M351.30,102.70 L347.70,104.68 L348.13,102.70 L347.70,100.72 Z" fill="#6e6e6e"/>
<path d="M323,102.7 Q338,103 340.5,112 Q342,124 348,128.2" fill="none" stroke="#6e6e6e" stroke-width="0.9"/>
<path d="M351.00,128.40 L347.40,130.38 L347.83,128.40 L347.40,126.42 Z" fill="#6e6e6e"/>
<text x="389.50" y="111.90" font-size="9" textLength="59.40" lengthAdjust="spacingAndGlyphs">Risk prediction</text>
<g>
<rect x="338.80" y="143.70" width="41.20" height="31.15" fill="#f08a3a"/>
<g filter="url(#blr)">
<rect x="339.40" y="144.30" width="3.95" height="3.99" fill="#e4a076"/>
<ellipse cx="340.97" cy="146.69" rx="1.29" ry="0.79" transform="rotate(17 340.97 146.69)" fill="#7a3020" opacity="0.7"/>
<rect x="339.40" y="149.49" width="3.95" height="3.99" fill="#e2a07a"/>
<ellipse cx="341.83" cy="151.84" rx="1.61" ry="0.99" transform="rotate(-57 341.83 151.84)" fill="#7a3020" opacity="0.7"/>
<rect x="339.40" y="154.68" width="3.95" height="3.99" fill="#e8aa80"/>
<ellipse cx="341.30" cy="156.94" rx="1.56" ry="0.96" transform="rotate(56 341.30 156.94)" fill="#7a3020" opacity="0.7"/>
<rect x="339.40" y="159.87" width="3.95" height="3.99" fill="#e2a07a"/>
<ellipse cx="340.88" cy="161.76" rx="1.64" ry="1.01" transform="rotate(39 340.88 161.76)" fill="#7a3020" opacity="0.7"/>
<rect x="339.40" y="165.07" width="3.95" height="3.99" fill="#e2a07a"/>
<ellipse cx="341.85" cy="166.81" rx="1.11" ry="0.68" transform="rotate(-41 341.85 166.81)" fill="#7a3020" opacity="0.7"/>
<rect x="339.40" y="170.26" width="3.95" height="3.99" fill="#e8aa80"/>
<ellipse cx="341.82" cy="172.48" rx="1.46" ry="0.90" transform="rotate(32 341.82 172.48)" fill="#7a3020" opacity="0.7"/>
<rect x="344.55" y="144.30" width="3.95" height="3.99" fill="#e2a07a"/>
<ellipse cx="346.11" cy="146.57" rx="1.04" ry="0.64" transform="rotate(-45 346.11 146.57)" fill="#7a3020" opacity="0.7"/>
<rect x="344.55" y="149.49" width="3.95" height="3.99" fill="#e8aa80"/>
<ellipse cx="346.67" cy="151.29" rx="1.12" ry="0.69" transform="rotate(-30 346.67 151.29)" fill="#7a3020" opacity="0.7"/>
<rect x="344.55" y="154.68" width="3.95" height="3.99" fill="#e2a07a"/>
<ellipse cx="346.72" cy="156.29" rx="1.09" ry="0.67" transform="rotate(3 346.72 156.29)" fill="#7a3020" opacity="0.7"/>
<rect x="344.55" y="159.87" width="3.95" height="3.99" fill="#e4a076"/>
<ellipse cx="346.41" cy="161.59" rx="1.43" ry="0.88" transform="rotate(-59 346.41 161.59)" fill="#7a3020" opacity="0.7"/>
<rect x="344.55" y="165.07" width="3.95" height="3.99" fill="#ecb48e"/>
<ellipse cx="347.02" cy="166.84" rx="1.25" ry="0.77" transform="rotate(41 347.02 166.84)" fill="#7a3020" opacity="0.7"/>
<rect x="344.55" y="170.26" width="3.95" height="3.99" fill="#e4a076"/>
<ellipse cx="346.50" cy="171.99" rx="1.20" ry="0.74" transform="rotate(55 346.50 171.99)" fill="#7a3020" opacity="0.7"/>
<rect x="349.70" y="144.30" width="3.95" height="3.99" fill="#ecb48e"/>
<ellipse cx="351.23" cy="145.99" rx="1.62" ry="0.99" transform="rotate(18 351.23 145.99)" fill="#7a3020" opacity="0.7"/>
<rect x="349.70" y="149.49" width="3.95" height="3.99" fill="#e8aa80"/>
<ellipse cx="351.43" cy="151.65" rx="1.64" ry="1.01" transform="rotate(-33 351.43 151.65)" fill="#7a3020" opacity="0.7"/>
<rect x="349.70" y="154.68" width="3.95" height="3.99" fill="#e8aa80"/>
<ellipse cx="351.87" cy="156.90" rx="1.28" ry="0.78" transform="rotate(-12 351.87 156.90)" fill="#7a3020" opacity="0.7"/>
<rect x="349.70" y="159.87" width="3.95" height="3.99" fill="#e8aa80"/>
<ellipse cx="351.97" cy="162.11" rx="1.37" ry="0.84" transform="rotate(-35 351.97 162.11)" fill="#7a3020" opacity="0.7"/>
<rect x="349.70" y="165.07" width="3.95" height="3.99" fill="#e4a076"/>
<ellipse cx="351.49" cy="167.38" rx="1.19" ry="0.73" transform="rotate(-33 351.49 167.38)" fill="#7a3020" opacity="0.7"/>
<rect x="349.70" y="170.26" width="3.95" height="3.99" fill="#ecb48e"/>
<ellipse cx="351.28" cy="172.38" rx="1.44" ry="0.88" transform="rotate(48 351.28 172.38)" fill="#7a3020" opacity="0.7"/>
<rect x="354.85" y="144.30" width="3.95" height="3.99" fill="#e2a07a"/>
<ellipse cx="356.74" cy="146.46" rx="1.66" ry="1.02" transform="rotate(-42 356.74 146.46)" fill="#7a3020" opacity="0.7"/>
<rect x="354.85" y="149.49" width="3.95" height="3.99" fill="#e2a07a"/>
<ellipse cx="356.38" cy="151.01" rx="1.43" ry="0.88" transform="rotate(-10 356.38 151.01)" fill="#7a3020" opacity="0.7"/>
<rect x="354.85" y="154.68" width="3.95" height="3.99" fill="#e8aa80"/>
<ellipse cx="356.51" cy="156.63" rx="1.50" ry="0.92" transform="rotate(-22 356.51 156.63)" fill="#7a3020" opacity="0.7"/>
<rect x="354.85" y="159.87" width="3.95" height="3.99" fill="#e8aa80"/>
<ellipse cx="357.32" cy="162.30" rx="1.25" ry="0.77" transform="rotate(-38 357.32 162.30)" fill="#7a3020" opacity="0.7"/>
<rect x="354.85" y="165.07" width="3.95" height="3.99" fill="#e2a07a"/>
<ellipse cx="356.36" cy="167.23" rx="1.29" ry="0.79" transform="rotate(-15 356.36 167.23)" fill="#7a3020" opacity="0.7"/>
<rect x="354.85" y="170.26" width="3.95" height="3.99" fill="#ecb48e"/>
<ellipse cx="356.77" cy="171.86" rx="1.09" ry="0.67" transform="rotate(-50 356.77 171.86)" fill="#7a3020" opacity="0.7"/>
<rect x="360.00" y="144.30" width="3.95" height="3.99" fill="#e2a07a"/>
<ellipse cx="362.43" cy="145.92" rx="1.67" ry="1.03" transform="rotate(-35 362.43 145.92)" fill="#7a3020" opacity="0.7"/>
<rect x="360.00" y="149.49" width="3.95" height="3.99" fill="#ecb48e"/>
<ellipse cx="362.24" cy="151.30" rx="1.56" ry="0.96" transform="rotate(-49 362.24 151.30)" fill="#7a3020" opacity="0.7"/>
<rect x="360.00" y="154.68" width="3.95" height="3.99" fill="#e2a07a"/>
<ellipse cx="361.67" cy="156.72" rx="1.33" ry="0.82" transform="rotate(-21 361.67 156.72)" fill="#7a3020" opacity="0.7"/>
<rect x="360.00" y="159.87" width="3.95" height="3.99" fill="#e2a07a"/>
<ellipse cx="361.51" cy="161.78" rx="1.57" ry="0.96" transform="rotate(32 361.51 161.78)" fill="#7a3020" opacity="0.7"/>
<rect x="360.00" y="165.07" width="3.95" height="3.99" fill="#e8aa80"/>
<ellipse cx="361.85" cy="167.03" rx="1.56" ry="0.96" transform="rotate(-53 361.85 167.03)" fill="#7a3020" opacity="0.7"/>
<rect x="360.00" y="170.26" width="3.95" height="3.99" fill="#e4a076"/>
<ellipse cx="362.22" cy="172.65" rx="1.26" ry="0.78" transform="rotate(-27 362.22 172.65)" fill="#7a3020" opacity="0.7"/>
<rect x="365.15" y="144.30" width="3.95" height="3.99" fill="#e8aa80"/>
<ellipse cx="366.89" cy="146.51" rx="1.25" ry="0.77" transform="rotate(-27 366.89 146.51)" fill="#7a3020" opacity="0.7"/>
<rect x="365.15" y="149.49" width="3.95" height="3.99" fill="#e8aa80"/>
<ellipse cx="367.35" cy="151.58" rx="1.56" ry="0.96" transform="rotate(54 367.35 151.58)" fill="#7a3020" opacity="0.7"/>
<rect x="365.15" y="154.68" width="3.95" height="3.99" fill="#e8aa80"/>
<ellipse cx="366.65" cy="156.41" rx="1.35" ry="0.83" transform="rotate(55 366.65 156.41)" fill="#7a3020" opacity="0.7"/>
<rect x="365.15" y="159.87" width="3.95" height="3.99" fill="#e2a07a"/>
<ellipse cx="367.41" cy="162.28" rx="1.57" ry="0.97" transform="rotate(-44 367.41 162.28)" fill="#7a3020" opacity="0.7"/>
<rect x="365.15" y="165.07" width="3.95" height="3.99" fill="#e2a07a"/>
<ellipse cx="366.81" cy="167.37" rx="1.52" ry="0.94" transform="rotate(39 366.81 167.37)" fill="#7a3020" opacity="0.7"/>
<rect x="365.15" y="170.26" width="3.95" height="3.99" fill="#e4a076"/>
<ellipse cx="367.23" cy="172.08" rx="1.25" ry="0.77" transform="rotate(-17 367.23 172.08)" fill="#7a3020" opacity="0.7"/>
<rect x="370.30" y="144.30" width="3.95" height="3.99" fill="#e8aa80"/>
<ellipse cx="372.29" cy="146.19" rx="1.14" ry="0.70" transform="rotate(-11 372.29 146.19)" fill="#7a3020" opacity="0.7"/>
<rect x="370.30" y="149.49" width="3.95" height="3.99" fill="#e8aa80"/>
<ellipse cx="372.26" cy="151.53" rx="1.14" ry="0.70" transform="rotate(-9 372.26 151.53)" fill="#7a3020" opacity="0.7"/>
<rect x="370.30" y="154.68" width="3.95" height="3.99" fill="#e8aa80"/>
<ellipse cx="372.76" cy="156.44" rx="1.09" ry="0.67" transform="rotate(-48 372.76 156.44)" fill="#7a3020" opacity="0.7"/>
<rect x="370.30" y="159.87" width="3.95" height="3.99" fill="#e2a07a"/>
<ellipse cx="372.76" cy="162.34" rx="1.15" ry="0.71" transform="rotate(-44 372.76 162.34)" fill="#7a3020" opacity="0.7"/>
<rect x="370.30" y="165.07" width="3.95" height="3.99" fill="#e2a07a"/>
<ellipse cx="372.40" cy="167.24" rx="1.53" ry="0.94" transform="rotate(42 372.40 167.24)" fill="#7a3020" opacity="0.7"/>
<rect x="370.30" y="170.26" width="3.95" height="3.99" fill="#e8aa80"/>
<ellipse cx="372.55" cy="172.05" rx="1.22" ry="0.75" transform="rotate(-28 372.55 172.05)" fill="#7a3020" opacity="0.7"/>
<rect x="375.45" y="144.30" width="3.95" height="3.99" fill="#ecb48e"/>
<ellipse cx="377.66" cy="146.00" rx="1.20" ry="0.74" transform="rotate(-31 377.66 146.00)" fill="#7a3020" opacity="0.7"/>
<rect x="375.45" y="149.49" width="3.95" height="3.99" fill="#e4a076"/>
<ellipse cx="377.21" cy="151.90" rx="1.16" ry="0.72" transform="rotate(-52 377.21 151.90)" fill="#7a3020" opacity="0.7"/>
<rect x="375.45" y="154.68" width="3.95" height="3.99" fill="#ecb48e"/>
<ellipse cx="377.92" cy="156.69" rx="1.19" ry="0.73" transform="rotate(37 377.92 156.69)" fill="#7a3020" opacity="0.7"/>
<rect x="375.45" y="159.87" width="3.95" height="3.99" fill="#e2a07a"/>
<ellipse cx="377.92" cy="161.47" rx="1.35" ry="0.83" transform="rotate(38 377.92 161.47)" fill="#7a3020" opacity="0.7"/>
<rect x="375.45" y="165.07" width="3.95" height="3.99" fill="#e2a07a"/>
<ellipse cx="377.84" cy="166.60" rx="1.23" ry="0.76" transform="rotate(-46 377.84 166.60)" fill="#7a3020" opacity="0.7"/>
<rect x="375.45" y="170.26" width="3.95" height="3.99" fill="#e4a076"/>
<ellipse cx="377.53" cy="172.58" rx="1.17" ry="0.72" transform="rotate(-51 377.53 172.58)" fill="#7a3020" opacity="0.7"/>
</g>
<defs><linearGradient id="rg" x1="0" x2="1"><stop offset="0" stop-color="#1a9a2a"/><stop offset="0.5" stop-color="#f0f020"/><stop offset="1" stop-color="#e81818"/></linearGradient></defs>
<rect x="339" y="175.6" width="40.9" height="2" rx="0.8" fill="url(#rg)"/>
</g>
<text x="389.50" y="159.30" font-size="9" textLength="65.80" lengthAdjust="spacingAndGlyphs">Malignant lesion</text>
<text x="401.80" y="169.80" font-size="9" textLength="38.90" lengthAdjust="spacingAndGlyphs">screening</text>
<line x1="464.00" y1="53.10" x2="492.00" y2="53.10" stroke="#858585" stroke-width="1.0"/>
<path d="M495.00,53.10 L491.20,55.19 L491.66,53.10 L491.20,51.01 Z" fill="#858585"/>
<line x1="464.00" y1="109.00" x2="492.00" y2="109.00" stroke="#858585" stroke-width="1.0"/>
<path d="M495.00,109.00 L491.20,111.09 L491.66,109.00 L491.20,106.91 Z" fill="#858585"/>
<line x1="465.00" y1="162.00" x2="492.00" y2="162.00" stroke="#858585" stroke-width="1.0"/>
<path d="M495.00,162.00 L491.20,164.09 L491.66,162.00 L491.20,159.91 Z" fill="#858585"/>
<g>
<rect x="507.8" y="44.2" width="21.9" height="27.4" rx="1.6" fill="#6e3424" stroke="#1e1210" stroke-width="0.9"/>
<rect x="509.8" y="46.2" width="18.2" height="23.4" fill="#e9f3f9" stroke="#1e1210" stroke-width="0.35"/>
<rect x="514.3" y="41.9" width="8.7" height="3.5" rx="1" fill="#b0a8a6" stroke="#2a2a2a" stroke-width="0.5"/>
<path d="M511.5,52.8 L513.8,52.8 L515.3,50 L517,55.5 L518.6,50.2 L520.2,54.5 L521.8,51.2 L523.3,53 L525.3,53" fill="none" stroke="#1a1a1a" stroke-width="0.9"/>
<line x1="511.80" y1="59.20" x2="515.60" y2="59.20" stroke="#555" stroke-width="0.8"/>
<line x1="511.80" y1="60.60" x2="515.60" y2="60.60" stroke="#555" stroke-width="0.8"/>
<line x1="511.80" y1="62.00" x2="515.60" y2="62.00" stroke="#555" stroke-width="0.8"/>
<line x1="511.80" y1="63.40" x2="515.60" y2="63.40" stroke="#555" stroke-width="0.8"/>
<line x1="511.80" y1="64.80" x2="515.60" y2="64.80" stroke="#555" stroke-width="0.8"/>
<circle cx="521.2" cy="61" r="1.8" fill="#4a66d8" stroke="#1a1a1a" stroke-width="0.5"/>
<line x1="519.80" y1="62.40" x2="517.90" y2="64.30" stroke="#1a1a1a" stroke-width="0.7"/>
<line x1="511.80" y1="67.30" x2="525.50" y2="67.30" stroke="#1a1a1a" stroke-width="0.7"/>
<rect x="525.3" y="46.4" width="10.4" height="10.1" fill="#f6d864" stroke="#1e1e1e" stroke-width="0.6"/>
<path d="M527.6,50.2 Q528.6,47.4 531,48.8 Q533.6,48.2 533.6,51 Q533.2,54.6 530.2,54.6 Q526.8,54 527.6,50.2 Z" fill="#e43c78" stroke="#1e1e1e" stroke-width="0.4"/>
<path d="M532.2,56.6 L532.2,59.2 L529.8,61" fill="none" stroke="#1e1e1e" stroke-width="0.6"/>
</g>
<text x="538.80" y="58.80" font-size="9" textLength="63.70" lengthAdjust="spacingAndGlyphs">Holistic analysis</text>
<g>
<rect x="512.3" y="113" width="5.7" height="13.2" rx="2.5" fill="#4cbfa0" stroke="#2a2040" stroke-width="0.6"/>
<rect x="512.6" y="117.5" width="1.3" height="3" fill="#2a2a70"/>
<circle cx="515.4" cy="106.9" r="6.6" fill="#e2e6f2" stroke="#4cbfa0" stroke-width="2.3"/>
<circle cx="515.4" cy="106.9" r="7.8" fill="none" stroke="#2a2040" stroke-width="0.5"/>
<path d="M518.2,110 L524,112.8 L521,116.5 Z" fill="#f5b025"/>
<circle cx="527.9" cy="119.6" r="6.9" fill="#8a5078" stroke="#2a1a30" stroke-width="0.6"/>
<circle cx="525.70" cy="116.00" r="1.5" fill="#f2bcd0" stroke="#c86a98" stroke-width="0.3"/>
<circle cx="529.70" cy="116.00" r="1.5" fill="#f2bcd0" stroke="#c86a98" stroke-width="0.3"/>
<circle cx="524.30" cy="119.60" r="1.5" fill="#f2bcd0" stroke="#c86a98" stroke-width="0.3"/>
<circle cx="527.90" cy="119.60" r="1.5" fill="#f2bcd0" stroke="#c86a98" stroke-width="0.3"/>
<circle cx="531.50" cy="119.60" r="1.5" fill="#f2bcd0" stroke="#c86a98" stroke-width="0.3"/>
<circle cx="525.70" cy="123.20" r="1.5" fill="#f2bcd0" stroke="#c86a98" stroke-width="0.3"/>
<circle cx="529.70" cy="123.20" r="1.5" fill="#f2bcd0" stroke="#c86a98" stroke-width="0.3"/>
<path d="M524.6,99.6 Q528.4,99.2 530,103.4 M524.8,101.6 Q527.4,101.4 528.3,104 M525,103.4 Q526.4,103.4 526.8,104.6" fill="none" stroke="#2a2040" stroke-width="0.85"/>
</g>
<text x="537.80" y="109.40" font-size="9" textLength="93.60" lengthAdjust="spacingAndGlyphs">Triage for dermoscopic</text>
<text x="537.80" y="119.30" font-size="9" textLength="48.50" lengthAdjust="spacingAndGlyphs">examination</text>
<g>
<circle cx="513.1" cy="151.7" r="6.2" fill="#e4503e" stroke="#1a1010" stroke-width="0.8"/>
<ellipse cx="510.60" cy="149.20" rx="1.6" ry="0.85" transform="rotate(30 510.60 149.20)" fill="#2e9c88" stroke="#1a1a1a" stroke-width="0.25"/>
<ellipse cx="514.60" cy="148.70" rx="1.6" ry="0.85" transform="rotate(-40 514.60 148.70)" fill="#2e9c88" stroke="#1a1a1a" stroke-width="0.25"/>
<ellipse cx="509.90" cy="152.50" rx="1.6" ry="0.85" transform="rotate(80 509.90 152.50)" fill="#2e9c88" stroke="#1a1a1a" stroke-width="0.25"/>
<ellipse cx="513.60" cy="152.20" rx="1.6" ry="0.85" transform="rotate(-60 513.60 152.20)" fill="#2e9c88" stroke="#1a1a1a" stroke-width="0.25"/>
<ellipse cx="516.30" cy="152.70" rx="1.6" ry="0.85" transform="rotate(70 516.30 152.70)" fill="#2e9c88" stroke="#1a1a1a" stroke-width="0.25"/>
<ellipse cx="512.60" cy="155.20" rx="1.6" ry="0.85" transform="rotate(0 512.60 155.20)" fill="#2e9c88" stroke="#1a1a1a" stroke-width="0.25"/>
<path d="M514.5,157.5 L515.6,159.8 L517,157.8 Z" fill="#2a1a1a"/>
<path d="M519,160.5 L530.5,149.5 L534,153 L522.5,164 Z" fill="#52b8e2" stroke="#222" stroke-width="0.5"/>
<path d="M517.5,159.8 L523.2,165.5" stroke="#222" stroke-width="1.6"/>
<path d="M531.5,148 L533,146.5 L536,149.5 L534.5,151 Z" fill="#222"/>
<circle cx="527.3" cy="160.9" r="2.6" fill="#2a2a2a"/>
<path d="M531,157 Q537.5,160 535.5,167.5 Q534,171 531.5,172" fill="none" stroke="#1a1a1a" stroke-width="2.8"/>
<path d="M531,157 Q537.5,160 535.5,167.5 Q534,171 531.5,172" fill="none" stroke="#52b8e2" stroke-width="1.8"/>
<path d="M511.5,169.2 L525,169.2" stroke="#222" stroke-width="1.2"/>
<path d="M522,172.5 Q524.5,167.5 527.5,172.5 Z" fill="#ddd" stroke="#222" stroke-width="0.4"/>
<rect x="515" y="172.8" width="21.5" height="2" rx="0.8" fill="#222"/>
</g>
<text x="537.80" y="164.40" font-size="9" textLength="91.20" lengthAdjust="spacingAndGlyphs">Pathology examination</text>
<text x="4.00" y="203.90" font-size="11.8" font-weight="bold" fill="#000" stroke="#000" stroke-width="0.45">b</text>
<text x="153.50" y="203.90" font-size="11.8" font-weight="bold" fill="#000" stroke="#000" stroke-width="0.45">c</text>
<text x="284.40" y="203.90" font-size="11.8" font-weight="bold" fill="#000" stroke="#000" stroke-width="0.45">d</text>
<text x="410.80" y="203.90" font-size="11.8" font-weight="bold" fill="#000" stroke="#000" stroke-width="0.45">e</text>
<text x="537.00" y="203.90" font-size="11.8" font-weight="bold" fill="#000" stroke="#000" stroke-width="0.45">f</text>
<path d="M70.20,220.50 A36.8,36.8 0 0 1 92.35,227.91 L83.92,239.09 A22.8,22.8 0 0 0 70.20,234.50 Z" fill="#ebae8d"/>
<path d="M92.35,227.91 A36.8,36.8 0 0 1 100.53,278.14 L88.99,270.21 A22.8,22.8 0 0 0 83.92,239.09 Z" fill="#99cdb4"/>
<path d="M100.53,278.14 A36.8,36.8 0 1 1 70.20,220.50 L70.20,234.50 A22.8,22.8 0 1 0 88.99,270.21 Z" fill="#8596ca"/>
<text x="85.50" y="210.80" font-size="7" text-anchor="middle" textLength="36.70" lengthAdjust="spacingAndGlyphs">Severe risk</text>
<text x="85.50" y="218.60" font-size="7" text-anchor="middle">615</text>
<text x="103.10" y="234.00" font-size="7" textLength="45.20" lengthAdjust="spacingAndGlyphs">Moderate risk</text>
<text x="124.70" y="242.50" font-size="7" text-anchor="middle">483</text>
<text x="28.80" y="290.00" font-size="7" text-anchor="middle" textLength="26.60" lengthAdjust="spacingAndGlyphs">Low risk</text>
<text x="28.80" y="297.70" font-size="7" text-anchor="middle">3,924</text>
<path d="M212.60,220.70 A37.3,37.3 0 1 1 191.74,227.08 L199.74,238.93 A23,23 0 1 0 212.60,235.00 Z" fill="#99cdb4"/>
<path d="M191.74,227.08 A37.3,37.3 0 0 1 212.60,220.70 L212.60,235.00 A23,23 0 0 0 199.74,238.93 Z" fill="#8596ca"/>
<text x="192.90" y="211.60" font-size="7" text-anchor="middle" textLength="19.90" lengthAdjust="spacingAndGlyphs">Nevus</text>
<text x="192.90" y="219.30" font-size="7" text-anchor="middle">2,643</text>
<text x="261.60" y="288.50" font-size="7" text-anchor="middle" textLength="35.70" lengthAdjust="spacingAndGlyphs">Non-nevus</text>
<text x="261.60" y="296.20" font-size="7" text-anchor="middle">25,584</text>
<path d="M353.30,221.00 A37,37 0 1 1 318.76,271.26 L331.83,266.24 A23,23 0 1 0 353.30,235.00 Z" fill="#99cdb4"/>
<path d="M318.76,271.26 A37,37 0 0 1 353.30,221.00 L353.30,235.00 A23,23 0 0 0 331.83,266.24 Z" fill="#8596ca"/>
<text x="322.30" y="217.00" font-size="7" text-anchor="middle" textLength="26.60" lengthAdjust="spacingAndGlyphs">Low risk</text>
<text x="322.30" y="224.70" font-size="7" text-anchor="middle">61,513</text>
<text x="386.70" y="298.10" font-size="7" text-anchor="middle" textLength="28.70" lengthAdjust="spacingAndGlyphs">High risk</text>
<text x="386.90" y="305.80" font-size="7" text-anchor="middle">135,420</text>
<circle cx="467.35" cy="258.1" r="28.75" fill="none" stroke="#99cdb4" stroke-width="13.50"/>
<line x1="467.40" y1="222.60" x2="467.40" y2="236.10" stroke="#a8d6c0" stroke-width="0.4"/>
<text x="466.50" y="211.50" font-size="7" text-anchor="middle" textLength="33.30" lengthAdjust="spacingAndGlyphs">Malignant</text>
<text x="466.50" y="219.00" font-size="7" text-anchor="middle">216</text>
<text x="496.50" y="296.70" font-size="7" text-anchor="middle" textLength="23.50" lengthAdjust="spacingAndGlyphs">Benign</text>
<text x="496.50" y="304.90" font-size="7" text-anchor="middle">196,716</text>
<defs>
<filter id="soft" x="-5%" y="-5%" width="110%" height="110%"><feGaussianBlur stdDeviation="0.9"/></filter>
<filter id="soft2" x="-5%" y="-5%" width="110%" height="110%"><feGaussianBlur stdDeviation="0.5"/></filter>
<filter id="wF" x="-5%" y="-5%" width="110%" height="110%"><feTurbulence type="fractalNoise" baseFrequency="1.5" numOctaves="2" seed="3" result="n"/><feColorMatrix in="n" type="matrix" values="0 0 0 0 0  0 0 0 0 0  0 0 0 0 0  0 0 0 9 -5.940" result="m"/><feComposite in="SourceGraphic" in2="m" operator="in"/></filter>
<filter id="dF" x="-5%" y="-5%" width="110%" height="110%"><feGaussianBlur in="SourceGraphic" stdDeviation="0.6" result="src"/><feTurbulence type="fractalNoise" baseFrequency="2.2" numOctaves="2" seed="4" result="n"/><feColorMatrix in="n" type="matrix" values="0 0 0 0 0  0 0 0 0 0  0 0 0 0 0  0 0 0 9 -4.500" result="m"/><feComposite in="src" in2="m" operator="in"/></filter>
<filter id="gF" x="-5%" y="-5%" width="110%" height="110%"><feTurbulence type="fractalNoise" baseFrequency="1.3" numOctaves="2" seed="6" result="n"/><feColorMatrix in="n" type="matrix" values="0 0 0 0 0  0 0 0 0 0  0 0 0 0 0  0 0 0 9 -5.400" result="m"/><feComposite in="SourceGraphic" in2="m" operator="in"/></filter>
<filter id="spkI" x="-5%" y="-5%" width="110%" height="110%"><feGaussianBlur in="SourceGraphic" stdDeviation="1.0" result="src"/><feTurbulence type="fractalNoise" baseFrequency="2.4" numOctaves="2" seed="5" result="n"/><feColorMatrix in="n" type="matrix" values="0 0 0 0 0  0 0 0 0 0  0 0 0 0 0  0 0 0 9 -4.140" result="m"/><feComposite in="src" in2="m" operator="in"/></filter>
<filter id="spkI2" x="-5%" y="-5%" width="110%" height="110%"><feGaussianBlur in="SourceGraphic" stdDeviation="1.0" result="src"/><feTurbulence type="fractalNoise" baseFrequency="2.4" numOctaves="2" seed="9" result="n"/><feColorMatrix in="n" type="matrix" values="0 0 0 0 0  0 0 0 0 0  0 0 0 0 0  0 0 0 9 -4.500" result="m"/><feComposite in="src" in2="m" operator="in"/></filter>
<filter id="wI" x="-5%" y="-5%" width="110%" height="110%"><feTurbulence type="fractalNoise" baseFrequency="1.3" numOctaves="2" seed="12" result="n"/><feColorMatrix in="n" type="matrix" values="0 0 0 0 0  0 0 0 0 0  0 0 0 0 0  0 0 0 9 -3.330" result="m"/><feComposite in="SourceGraphic" in2="m" operator="in"/></filter>
<filter id="spkL" x="-5%" y="-5%" width="110%" height="110%"><feGaussianBlur in="SourceGraphic" stdDeviation="1.0" result="src"/><feTurbulence type="fractalNoise" baseFrequency="2.2" numOctaves="2" seed="11" result="n"/><feColorMatrix in="n" type="matrix" values="0 0 0 0 0  0 0 0 0 0  0 0 0 0 0  0 0 0 9 -4.410" result="m"/><feComposite in="src" in2="m" operator="in"/></filter>
<filter id="wL" x="-5%" y="-5%" width="110%" height="110%"><feTurbulence type="fractalNoise" baseFrequency="1.3" numOctaves="2" seed="13" result="n"/><feColorMatrix in="n" type="matrix" values="0 0 0 0 0  0 0 0 0 0  0 0 0 0 0  0 0 0 9 -3.780" result="m"/><feComposite in="SourceGraphic" in2="m" operator="in"/></filter>
<linearGradient id="fg" gradientUnits="userSpaceOnUse" x1="560" y1="230" x2="660" y2="290"><stop offset="0" stop-color="#d68a64"/><stop offset="0.45" stop-color="#d8a284"/><stop offset="1" stop-color="#daa88e"/></linearGradient>
<linearGradient id="ig" gradientUnits="userSpaceOnUse" x1="555" y1="428" x2="615" y2="380"><stop offset="0" stop-color="#f28c3a" stop-opacity="1"/><stop offset="0.3" stop-color="#f2904a" stop-opacity="0.85"/><stop offset="0.55" stop-color="#f2904a" stop-opacity="0.5"/><stop offset="1" stop-color="#f2904a" stop-opacity="0.35"/></linearGradient>
<linearGradient id="ib" gradientUnits="userSpaceOnUse" x1="555" y1="428" x2="615" y2="380"><stop offset="0" stop-color="#6496ca" stop-opacity="0"/><stop offset="0.25" stop-color="#6496ca" stop-opacity="0.25"/><stop offset="0.5" stop-color="#6496ca" stop-opacity="0.75"/><stop offset="0.8" stop-color="#6496ca" stop-opacity="0.95"/></linearGradient>
<linearGradient id="ibase" gradientUnits="userSpaceOnUse" x1="555" y1="428" x2="615" y2="380"><stop offset="0" stop-color="#f7c8a0"/><stop offset="0.35" stop-color="#ead6cc"/><stop offset="0.6" stop-color="#c4d6ea"/><stop offset="1" stop-color="#bcd2ea"/></linearGradient>
<linearGradient id="lg" gradientUnits="userSpaceOnUse" x1="545" y1="0" x2="655" y2="0"><stop offset="0" stop-color="#e4502a"/><stop offset="0.14" stop-color="#ea6a36"/><stop offset="0.24" stop-color="#e4c478"/><stop offset="0.34" stop-color="#b0d8c0"/><stop offset="0.52" stop-color="#a2cfb8"/><stop offset="0.6" stop-color="#80acb2"/><stop offset="0.7" stop-color="#6c9ca6"/><stop offset="1" stop-color="#60949e"/></linearGradient>
<linearGradient id="lbase" gradientUnits="userSpaceOnUse" x1="545" y1="0" x2="655" y2="0"><stop offset="0" stop-color="#ec7a58"/><stop offset="0.14" stop-color="#f09a70"/><stop offset="0.24" stop-color="#f0dcb0"/><stop offset="0.34" stop-color="#d2e8da"/><stop offset="0.52" stop-color="#c8e4d6"/><stop offset="0.6" stop-color="#aac6cc"/><stop offset="0.7" stop-color="#a2c0c8"/><stop offset="1" stop-color="#9cbcc4"/></linearGradient>
<radialGradient id="ly" gradientUnits="userSpaceOnUse" cx="575" cy="563" r="15"><stop offset="0" stop-color="#f4e28a" stop-opacity="1"/><stop offset="0.55" stop-color="#f4e496" stop-opacity="0.9"/><stop offset="1" stop-color="#f4e8a0" stop-opacity="0"/></radialGradient>
<clipPath id="lclip"><path d="M545.00,574.30 C545.62,573.70 548.08,573.42 550.50,572.50 C552.92,571.58 557.08,570.32 559.50,568.80 C561.92,567.28 563.77,565.67 565.00,563.40 C566.23,561.13 565.83,557.03 566.90,555.20 C567.97,553.37 569.73,554.08 571.40,552.40 C573.07,550.72 575.98,548.45 576.90,545.10 C577.82,541.75 575.53,534.73 576.90,532.30 C578.27,529.87 583.58,531.72 585.10,530.50 C586.62,529.28 585.85,527.88 586.00,525.00 C586.15,522.12 584.99,516.08 586.00,513.20 C587.01,510.32 588.09,509.02 592.07,507.70 C596.06,506.38 603.70,505.45 609.91,505.30 C616.12,505.15 624.21,505.78 629.34,506.80 C634.47,507.82 638.14,509.73 640.70,511.40 C643.26,513.07 644.43,514.98 644.69,516.80 C644.96,518.62 643.77,520.62 642.30,522.30 C640.82,523.98 637.03,524.62 635.82,526.90 C634.61,529.18 634.49,532.97 635.02,536.00 C635.55,539.03 636.99,542.07 639.01,545.10 C641.04,548.13 645.02,550.55 647.18,554.20 C649.34,557.85 651.01,562.73 651.97,567.00 C652.92,571.27 653.43,575.53 652.90,579.80 C652.37,584.07 650.81,589.57 648.77,592.60 C646.74,595.63 644.22,597.40 640.70,598.00 C637.18,598.60 632.25,598.02 627.65,596.20 C623.06,594.38 617.95,590.45 613.10,587.10 C608.25,583.75 603.22,578.68 598.55,576.10 C593.88,573.52 589.48,572.50 585.10,571.60 C580.72,570.70 576.87,570.40 572.30,570.70 C567.73,571.00 561.95,572.50 557.70,573.40 C553.45,574.30 548.92,575.95 546.80,576.10 C544.68,576.25 544.38,574.90 545.00,574.30 Z"/></clipPath>
</defs>
<path d="M545.50,272.80 C546.12,272.20 548.58,271.92 551.00,271.00 C553.42,270.08 557.58,268.82 560.00,267.30 C562.42,265.78 564.27,264.17 565.50,261.90 C566.73,259.63 566.33,255.53 567.40,253.70 C568.47,251.87 570.23,252.58 571.90,250.90 C573.57,249.22 576.48,246.95 577.40,243.60 C578.32,240.25 576.03,233.23 577.40,230.80 C578.77,228.37 584.08,230.22 585.60,229.00 C587.12,227.78 586.35,226.38 586.50,223.50 C586.65,220.62 585.43,214.58 586.50,211.70 C587.57,208.82 588.48,207.52 592.90,206.20 C597.32,204.88 606.00,203.95 613.00,203.80 C620.00,203.65 629.12,204.28 634.90,205.30 C640.68,206.32 644.82,208.23 647.70,209.90 C650.58,211.57 651.90,213.48 652.20,215.30 C652.50,217.12 651.17,219.12 649.50,220.80 C647.83,222.48 643.57,223.12 642.20,225.40 C640.83,227.68 640.70,231.47 641.30,234.50 C641.90,237.53 643.52,240.57 645.80,243.60 C648.08,246.63 652.57,249.05 655.00,252.70 C657.43,256.35 659.33,261.23 660.40,265.50 C661.47,269.77 662.00,274.03 661.40,278.30 C660.80,282.57 659.08,288.07 656.80,291.10 C654.52,294.13 651.67,295.90 647.70,296.50 C643.73,297.10 638.18,296.52 633.00,294.70 C627.82,292.88 622.07,288.95 616.60,285.60 C611.13,282.25 605.37,277.18 600.20,274.60 C595.03,272.02 590.17,271.00 585.60,270.10 C581.03,269.20 577.37,268.90 572.80,269.20 C568.23,269.50 562.45,271.00 558.20,271.90 C553.95,272.80 549.42,274.45 547.30,274.60 C545.18,274.75 544.88,273.40 545.50,272.80 Z" fill="url(#fg)" filter="url(#soft2)"/>
<g filter="url(#dF)" opacity="0.5"><path d="M545.50,272.80 C546.12,272.20 548.58,271.92 551.00,271.00 C553.42,270.08 557.58,268.82 560.00,267.30 C562.42,265.78 564.27,264.17 565.50,261.90 C566.73,259.63 566.33,255.53 567.40,253.70 C568.47,251.87 570.23,252.58 571.90,250.90 C573.57,249.22 576.48,246.95 577.40,243.60 C578.32,240.25 576.03,233.23 577.40,230.80 C578.77,228.37 584.08,230.22 585.60,229.00 C587.12,227.78 586.35,226.38 586.50,223.50 C586.65,220.62 585.43,214.58 586.50,211.70 C587.57,208.82 588.48,207.52 592.90,206.20 C597.32,204.88 606.00,203.95 613.00,203.80 C620.00,203.65 629.12,204.28 634.90,205.30 C640.68,206.32 644.82,208.23 647.70,209.90 C650.58,211.57 651.90,213.48 652.20,215.30 C652.50,217.12 651.17,219.12 649.50,220.80 C647.83,222.48 643.57,223.12 642.20,225.40 C640.83,227.68 640.70,231.47 641.30,234.50 C641.90,237.53 643.52,240.57 645.80,243.60 C648.08,246.63 652.57,249.05 655.00,252.70 C657.43,256.35 659.33,261.23 660.40,265.50 C661.47,269.77 662.00,274.03 661.40,278.30 C660.80,282.57 659.08,288.07 656.80,291.10 C654.52,294.13 651.67,295.90 647.70,296.50 C643.73,297.10 638.18,296.52 633.00,294.70 C627.82,292.88 622.07,288.95 616.60,285.60 C611.13,282.25 605.37,277.18 600.20,274.60 C595.03,272.02 590.17,271.00 585.60,270.10 C581.03,269.20 577.37,268.90 572.80,269.20 C568.23,269.50 562.45,271.00 558.20,271.90 C553.95,272.80 549.42,274.45 547.30,274.60 C545.18,274.75 544.88,273.40 545.50,272.80 Z" fill="#bc7658"/></g>
<g filter="url(#wF)" opacity="0.45"><path d="M545.50,272.80 C546.12,272.20 548.58,271.92 551.00,271.00 C553.42,270.08 557.58,268.82 560.00,267.30 C562.42,265.78 564.27,264.17 565.50,261.90 C566.73,259.63 566.33,255.53 567.40,253.70 C568.47,251.87 570.23,252.58 571.90,250.90 C573.57,249.22 576.48,246.95 577.40,243.60 C578.32,240.25 576.03,233.23 577.40,230.80 C578.77,228.37 584.08,230.22 585.60,229.00 C587.12,227.78 586.35,226.38 586.50,223.50 C586.65,220.62 585.43,214.58 586.50,211.70 C587.57,208.82 588.48,207.52 592.90,206.20 C597.32,204.88 606.00,203.95 613.00,203.80 C620.00,203.65 629.12,204.28 634.90,205.30 C640.68,206.32 644.82,208.23 647.70,209.90 C650.58,211.57 651.90,213.48 652.20,215.30 C652.50,217.12 651.17,219.12 649.50,220.80 C647.83,222.48 643.57,223.12 642.20,225.40 C640.83,227.68 640.70,231.47 641.30,234.50 C641.90,237.53 643.52,240.57 645.80,243.60 C648.08,246.63 652.57,249.05 655.00,252.70 C657.43,256.35 659.33,261.23 660.40,265.50 C661.47,269.77 662.00,274.03 661.40,278.30 C660.80,282.57 659.08,288.07 656.80,291.10 C654.52,294.13 651.67,295.90 647.70,296.50 C643.73,297.10 638.18,296.52 633.00,294.70 C627.82,292.88 622.07,288.95 616.60,285.60 C611.13,282.25 605.37,277.18 600.20,274.60 C595.03,272.02 590.17,271.00 585.60,270.10 C581.03,269.20 577.37,268.90 572.80,269.20 C568.23,269.50 562.45,271.00 558.20,271.90 C553.95,272.80 549.42,274.45 547.30,274.60 C545.18,274.75 544.88,273.40 545.50,272.80 Z" fill="#fff"/></g>
<g filter="url(#gF)"><path d="M602.00,227.50 C605.77,226.58 618.77,227.92 624.60,227.50 C630.43,227.08 633.60,225.92 637.00,225.00 C640.40,224.08 642.83,220.83 645.00,222.00 C647.17,223.17 649.33,228.17 650.00,232.00 C650.67,235.83 650.67,243.25 649.00,245.00 C647.33,246.75 643.00,243.33 640.00,242.50 C637.00,241.67 635.33,241.08 631.00,240.00 C626.67,238.92 618.83,237.17 614.00,236.00 C609.17,234.83 604.00,234.42 602.00,233.00 C600.00,231.58 598.23,228.42 602.00,227.50 Z" fill="#fff"/></g>
<path d="M546.50,423.80 C547.12,423.20 549.58,422.92 552.00,422.00 C554.42,421.08 558.58,419.82 561.00,418.30 C563.42,416.78 565.27,415.17 566.50,412.90 C567.73,410.63 567.33,406.53 568.40,404.70 C569.47,402.87 571.23,403.58 572.90,401.90 C574.57,400.22 577.48,397.95 578.40,394.60 C579.32,391.25 577.03,384.23 578.40,381.80 C579.77,379.37 585.08,381.22 586.60,380.00 C588.12,378.78 587.35,377.38 587.50,374.50 C587.65,371.62 586.43,365.58 587.50,362.70 C588.57,359.82 589.48,358.52 593.90,357.20 C598.32,355.88 607.00,354.95 614.00,354.80 C621.00,354.65 630.12,355.28 635.90,356.30 C641.68,357.32 645.82,359.23 648.70,360.90 C651.58,362.57 652.90,364.48 653.20,366.30 C653.50,368.12 652.17,370.12 650.50,371.80 C648.83,373.48 644.57,374.12 643.20,376.40 C641.83,378.68 641.70,382.47 642.30,385.50 C642.90,388.53 644.52,391.57 646.80,394.60 C649.08,397.63 653.57,400.05 656.00,403.70 C658.43,407.35 660.33,412.23 661.40,416.50 C662.47,420.77 663.00,425.03 662.40,429.30 C661.80,433.57 660.08,439.07 657.80,442.10 C655.52,445.13 652.67,446.90 648.70,447.50 C644.73,448.10 639.18,447.52 634.00,445.70 C628.82,443.88 623.07,439.95 617.60,436.60 C612.13,433.25 606.37,428.18 601.20,425.60 C596.03,423.02 591.17,422.00 586.60,421.10 C582.03,420.20 578.37,419.90 573.80,420.20 C569.23,420.50 563.45,422.00 559.20,422.90 C554.95,423.80 550.42,425.45 548.30,425.60 C546.18,425.75 545.88,424.40 546.50,423.80 Z" fill="url(#ibase)" filter="url(#soft)" opacity="0.72"/>
<g filter="url(#spkI)"><path d="M546.50,423.80 C547.12,423.20 549.58,422.92 552.00,422.00 C554.42,421.08 558.58,419.82 561.00,418.30 C563.42,416.78 565.27,415.17 566.50,412.90 C567.73,410.63 567.33,406.53 568.40,404.70 C569.47,402.87 571.23,403.58 572.90,401.90 C574.57,400.22 577.48,397.95 578.40,394.60 C579.32,391.25 577.03,384.23 578.40,381.80 C579.77,379.37 585.08,381.22 586.60,380.00 C588.12,378.78 587.35,377.38 587.50,374.50 C587.65,371.62 586.43,365.58 587.50,362.70 C588.57,359.82 589.48,358.52 593.90,357.20 C598.32,355.88 607.00,354.95 614.00,354.80 C621.00,354.65 630.12,355.28 635.90,356.30 C641.68,357.32 645.82,359.23 648.70,360.90 C651.58,362.57 652.90,364.48 653.20,366.30 C653.50,368.12 652.17,370.12 650.50,371.80 C648.83,373.48 644.57,374.12 643.20,376.40 C641.83,378.68 641.70,382.47 642.30,385.50 C642.90,388.53 644.52,391.57 646.80,394.60 C649.08,397.63 653.57,400.05 656.00,403.70 C658.43,407.35 660.33,412.23 661.40,416.50 C662.47,420.77 663.00,425.03 662.40,429.30 C661.80,433.57 660.08,439.07 657.80,442.10 C655.52,445.13 652.67,446.90 648.70,447.50 C644.73,448.10 639.18,447.52 634.00,445.70 C628.82,443.88 623.07,439.95 617.60,436.60 C612.13,433.25 606.37,428.18 601.20,425.60 C596.03,423.02 591.17,422.00 586.60,421.10 C582.03,420.20 578.37,419.90 573.80,420.20 C569.23,420.50 563.45,422.00 559.20,422.90 C554.95,423.80 550.42,425.45 548.30,425.60 C546.18,425.75 545.88,424.40 546.50,423.80 Z" fill="url(#ib)"/></g>
<g filter="url(#spkI2)"><path d="M546.50,423.80 C547.12,423.20 549.58,422.92 552.00,422.00 C554.42,421.08 558.58,419.82 561.00,418.30 C563.42,416.78 565.27,415.17 566.50,412.90 C567.73,410.63 567.33,406.53 568.40,404.70 C569.47,402.87 571.23,403.58 572.90,401.90 C574.57,400.22 577.48,397.95 578.40,394.60 C579.32,391.25 577.03,384.23 578.40,381.80 C579.77,379.37 585.08,381.22 586.60,380.00 C588.12,378.78 587.35,377.38 587.50,374.50 C587.65,371.62 586.43,365.58 587.50,362.70 C588.57,359.82 589.48,358.52 593.90,357.20 C598.32,355.88 607.00,354.95 614.00,354.80 C621.00,354.65 630.12,355.28 635.90,356.30 C641.68,357.32 645.82,359.23 648.70,360.90 C651.58,362.57 652.90,364.48 653.20,366.30 C653.50,368.12 652.17,370.12 650.50,371.80 C648.83,373.48 644.57,374.12 643.20,376.40 C641.83,378.68 641.70,382.47 642.30,385.50 C642.90,388.53 644.52,391.57 646.80,394.60 C649.08,397.63 653.57,400.05 656.00,403.70 C658.43,407.35 660.33,412.23 661.40,416.50 C662.47,420.77 663.00,425.03 662.40,429.30 C661.80,433.57 660.08,439.07 657.80,442.10 C655.52,445.13 652.67,446.90 648.70,447.50 C644.73,448.10 639.18,447.52 634.00,445.70 C628.82,443.88 623.07,439.95 617.60,436.60 C612.13,433.25 606.37,428.18 601.20,425.60 C596.03,423.02 591.17,422.00 586.60,421.10 C582.03,420.20 578.37,419.90 573.80,420.20 C569.23,420.50 563.45,422.00 559.20,422.90 C554.95,423.80 550.42,425.45 548.30,425.60 C546.18,425.75 545.88,424.40 546.50,423.80 Z" fill="url(#ig)"/></g>
<g filter="url(#wI)"><path d="M585.00,376.20 C587.00,375.48 593.33,376.97 597.00,377.20 C600.67,377.43 602.23,377.60 607.00,377.60 C611.77,377.60 620.43,377.67 625.60,377.20 C630.77,376.73 634.60,375.75 638.00,374.80 C641.40,373.85 643.83,370.13 646.00,371.50 C648.17,372.87 650.33,378.75 651.00,383.00 C651.67,387.25 651.67,395.08 650.00,397.00 C648.33,398.92 644.00,395.25 641.00,394.50 C638.00,393.75 636.67,393.50 632.00,392.50 C627.33,391.50 619.17,389.92 613.00,388.50 C606.83,387.08 599.67,385.17 595.00,384.00 C590.33,382.83 586.67,382.80 585.00,381.50 C583.33,380.20 583.00,376.92 585.00,376.20 Z" fill="#fff"/></g>
<path d="M545.00,574.30 C545.62,573.70 548.08,573.42 550.50,572.50 C552.92,571.58 557.08,570.32 559.50,568.80 C561.92,567.28 563.77,565.67 565.00,563.40 C566.23,561.13 565.83,557.03 566.90,555.20 C567.97,553.37 569.73,554.08 571.40,552.40 C573.07,550.72 575.98,548.45 576.90,545.10 C577.82,541.75 575.53,534.73 576.90,532.30 C578.27,529.87 583.58,531.72 585.10,530.50 C586.62,529.28 585.85,527.88 586.00,525.00 C586.15,522.12 584.99,516.08 586.00,513.20 C587.01,510.32 588.09,509.02 592.07,507.70 C596.06,506.38 603.70,505.45 609.91,505.30 C616.12,505.15 624.21,505.78 629.34,506.80 C634.47,507.82 638.14,509.73 640.70,511.40 C643.26,513.07 644.43,514.98 644.69,516.80 C644.96,518.62 643.77,520.62 642.30,522.30 C640.82,523.98 637.03,524.62 635.82,526.90 C634.61,529.18 634.49,532.97 635.02,536.00 C635.55,539.03 636.99,542.07 639.01,545.10 C641.04,548.13 645.02,550.55 647.18,554.20 C649.34,557.85 651.01,562.73 651.97,567.00 C652.92,571.27 653.43,575.53 652.90,579.80 C652.37,584.07 650.81,589.57 648.77,592.60 C646.74,595.63 644.22,597.40 640.70,598.00 C637.18,598.60 632.25,598.02 627.65,596.20 C623.06,594.38 617.95,590.45 613.10,587.10 C608.25,583.75 603.22,578.68 598.55,576.10 C593.88,573.52 589.48,572.50 585.10,571.60 C580.72,570.70 576.87,570.40 572.30,570.70 C567.73,571.00 561.95,572.50 557.70,573.40 C553.45,574.30 548.92,575.95 546.80,576.10 C544.68,576.25 544.38,574.90 545.00,574.30 Z" fill="url(#lbase)" filter="url(#soft)" opacity="0.85"/>
<g filter="url(#spkL)"><path d="M545.00,574.30 C545.62,573.70 548.08,573.42 550.50,572.50 C552.92,571.58 557.08,570.32 559.50,568.80 C561.92,567.28 563.77,565.67 565.00,563.40 C566.23,561.13 565.83,557.03 566.90,555.20 C567.97,553.37 569.73,554.08 571.40,552.40 C573.07,550.72 575.98,548.45 576.90,545.10 C577.82,541.75 575.53,534.73 576.90,532.30 C578.27,529.87 583.58,531.72 585.10,530.50 C586.62,529.28 585.85,527.88 586.00,525.00 C586.15,522.12 584.99,516.08 586.00,513.20 C587.01,510.32 588.09,509.02 592.07,507.70 C596.06,506.38 603.70,505.45 609.91,505.30 C616.12,505.15 624.21,505.78 629.34,506.80 C634.47,507.82 638.14,509.73 640.70,511.40 C643.26,513.07 644.43,514.98 644.69,516.80 C644.96,518.62 643.77,520.62 642.30,522.30 C640.82,523.98 637.03,524.62 635.82,526.90 C634.61,529.18 634.49,532.97 635.02,536.00 C635.55,539.03 636.99,542.07 639.01,545.10 C641.04,548.13 645.02,550.55 647.18,554.20 C649.34,557.85 651.01,562.73 651.97,567.00 C652.92,571.27 653.43,575.53 652.90,579.80 C652.37,584.07 650.81,589.57 648.77,592.60 C646.74,595.63 644.22,597.40 640.70,598.00 C637.18,598.60 632.25,598.02 627.65,596.20 C623.06,594.38 617.95,590.45 613.10,587.10 C608.25,583.75 603.22,578.68 598.55,576.10 C593.88,573.52 589.48,572.50 585.10,571.60 C580.72,570.70 576.87,570.40 572.30,570.70 C567.73,571.00 561.95,572.50 557.70,573.40 C553.45,574.30 548.92,575.95 546.80,576.10 C544.68,576.25 544.38,574.90 545.00,574.30 Z" fill="url(#lg)"/></g>
<g clip-path="url(#lclip)"><g filter="url(#spkL)"><rect x="555" y="540" width="40" height="45" fill="url(#ly)"/></g></g>
<g filter="url(#wL)"><path d="M583.50,526.70 C585.39,525.98 591.46,527.47 594.82,527.70 C598.19,527.93 599.47,528.10 603.70,528.10 C607.93,528.10 615.62,528.17 620.20,527.70 C624.79,527.23 628.19,526.25 631.20,525.30 C634.22,524.35 636.38,520.63 638.30,522.00 C640.23,523.37 642.15,529.25 642.74,533.50 C643.33,537.75 643.33,545.58 641.85,547.50 C640.37,549.42 636.53,545.75 633.87,545.00 C631.20,544.25 630.02,544.00 625.88,543.00 C621.74,542.00 614.49,540.42 609.02,539.00 C603.55,537.58 597.30,535.67 593.05,534.50 C588.80,533.33 585.09,533.30 583.50,532.00 C581.91,530.70 581.61,527.42 583.50,526.70 Z" fill="#fff"/></g>
<text x="0.10" y="322.30" font-size="12" font-weight="bold" fill="#000" stroke="#000" stroke-width="0.45">g</text>
<text x="283.90" y="321.80" font-size="11.8" font-weight="bold" fill="#000" stroke="#000" stroke-width="0.45">h</text>
<text x="538.00" y="321.60" font-size="11.8" font-weight="bold" fill="#000" stroke="#000" stroke-width="0.45">i</text>
<circle cx="2.3" cy="480.7" r="1.3" fill="#000"/><path d="M2.3,483.1 L2.3,488.4 Q2.3,490.5 -0.2,490.5" fill="none" stroke="#000" stroke-width="2.4"/>
<text x="276.80" y="488.60" font-size="11.8" font-weight="bold" fill="#000" stroke="#000" stroke-width="0.45">k</text>
<path d="M539.7,479.2 L539.7,485.6 Q539.7,487.6 542.1,487.6" fill="none" stroke="#000" stroke-width="2.1"/>
<rect x="30.70" y="324.20" width="6.80" height="6.70" fill="#99cdb4"/>
<text x="39.80" y="329.90" font-size="7.2" textLength="43.70" lengthAdjust="spacingAndGlyphs">SL_Imagenet</text>
<rect x="94.50" y="324.20" width="6.80" height="6.70" fill="#ebae8d"/>
<text x="104.00" y="329.90" font-size="7.2" textLength="26.40" lengthAdjust="spacingAndGlyphs">DINOv2</text>
<rect x="144.20" y="324.20" width="6.80" height="6.70" fill="#a6aed5"/>
<text x="153.80" y="329.90" font-size="7.2" textLength="37.40" lengthAdjust="spacingAndGlyphs">SwAVDerm</text>
<rect x="203.10" y="324.20" width="6.80" height="6.70" fill="#989898"/>
<text x="212.60" y="329.90" font-size="7.2" textLength="30.70" lengthAdjust="spacingAndGlyphs">PanDerm</text>
<rect x="33.80" y="490.50" width="6.80" height="6.70" fill="#99cdb4"/>
<text x="43.30" y="496.20" font-size="7.2" textLength="43.00" lengthAdjust="spacingAndGlyphs">SL_Imagenet</text>
<rect x="98.30" y="490.50" width="6.80" height="6.70" fill="#ebae8d"/>
<text x="107.80" y="496.20" font-size="7.2" textLength="26.40" lengthAdjust="spacingAndGlyphs">DINOv2</text>
<rect x="145.80" y="490.50" width="6.80" height="6.70" fill="#a6aed5"/>
<text x="155.10" y="496.20" font-size="7.2" textLength="38.00" lengthAdjust="spacingAndGlyphs">SwAVDerm</text>
<rect x="204.60" y="490.50" width="6.80" height="6.70" fill="#989898"/>
<text x="214.30" y="496.20" font-size="7.2" textLength="30.60" lengthAdjust="spacingAndGlyphs">PanDerm</text>
<line x1="30.40" y1="336.60" x2="30.40" y2="449.80" stroke="#7c7c7c" stroke-width="0.9"/>
<line x1="29.95" y1="449.30" x2="129.80" y2="449.30" stroke="#7c7c7c" stroke-width="0.9"/>
<line x1="27.80" y1="346.30" x2="30.40" y2="346.30" stroke="#7c7c7c" stroke-width="0.8"/>
<text x="24.70" y="348.70" font-size="6.8" text-anchor="end" textLength="11.00" lengthAdjust="spacingAndGlyphs">1.0</text>
<line x1="27.80" y1="366.90" x2="30.40" y2="366.90" stroke="#7c7c7c" stroke-width="0.8"/>
<text x="24.70" y="369.30" font-size="6.8" text-anchor="end" textLength="11.00" lengthAdjust="spacingAndGlyphs">0.9</text>
<line x1="27.80" y1="387.50" x2="30.40" y2="387.50" stroke="#7c7c7c" stroke-width="0.8"/>
<text x="24.70" y="389.90" font-size="6.8" text-anchor="end" textLength="11.00" lengthAdjust="spacingAndGlyphs">0.8</text>
<line x1="27.80" y1="408.10" x2="30.40" y2="408.10" stroke="#7c7c7c" stroke-width="0.8"/>
<text x="24.70" y="410.50" font-size="6.8" text-anchor="end" textLength="11.00" lengthAdjust="spacingAndGlyphs">0.7</text>
<line x1="27.80" y1="428.70" x2="30.40" y2="428.70" stroke="#7c7c7c" stroke-width="0.8"/>
<text x="24.70" y="431.10" font-size="6.8" text-anchor="end" textLength="11.00" lengthAdjust="spacingAndGlyphs">0.6</text>
<line x1="27.80" y1="449.30" x2="30.40" y2="449.30" stroke="#7c7c7c" stroke-width="0.8"/>
<text x="24.70" y="451.70" font-size="6.8" text-anchor="end" textLength="11.00" lengthAdjust="spacingAndGlyphs">0.5</text>
<rect x="35.10" y="369.17" width="22.40" height="80.13" fill="#99cdb4"/>
<rect x="57.50" y="373.70" width="22.60" height="75.60" fill="#ebae8d"/>
<rect x="80.10" y="369.99" width="22.80" height="79.31" fill="#a6aed5"/>
<rect x="102.90" y="367.93" width="22.30" height="81.37" fill="#989898"/>
<line x1="46.30" y1="365.46" x2="46.30" y2="372.87" stroke="#333" stroke-width="0.7"/>
<line x1="44.70" y1="365.46" x2="47.90" y2="365.46" stroke="#333" stroke-width="0.7"/>
<line x1="44.70" y1="372.87" x2="47.90" y2="372.87" stroke="#333" stroke-width="0.7"/>
<line x1="68.80" y1="369.17" x2="68.80" y2="377.82" stroke="#333" stroke-width="0.7"/>
<line x1="67.20" y1="369.17" x2="70.40" y2="369.17" stroke="#333" stroke-width="0.7"/>
<line x1="67.20" y1="377.82" x2="70.40" y2="377.82" stroke="#333" stroke-width="0.7"/>
<line x1="91.50" y1="365.87" x2="91.50" y2="373.70" stroke="#333" stroke-width="0.7"/>
<line x1="89.90" y1="365.87" x2="93.10" y2="365.87" stroke="#333" stroke-width="0.7"/>
<line x1="89.90" y1="373.70" x2="93.10" y2="373.70" stroke="#333" stroke-width="0.7"/>
<line x1="114.05" y1="364.22" x2="114.05" y2="371.23" stroke="#333" stroke-width="0.7"/>
<line x1="112.45" y1="364.22" x2="115.65" y2="364.22" stroke="#333" stroke-width="0.7"/>
<line x1="112.45" y1="371.23" x2="115.65" y2="371.23" stroke="#333" stroke-width="0.7"/>
<line x1="46.10" y1="360.50" x2="113.90" y2="360.50" stroke="#333" stroke-width="0.8"/>
<text x="65.50" y="358.40" font-size="7" font-style="italic">P</text>
<text x="71.40" y="358.40" font-size="7" textLength="23.90" lengthAdjust="spacingAndGlyphs">= 0.025</text>
<text x="80.15" y="459.70" font-size="9" text-anchor="middle" textLength="72.00" lengthAdjust="spacingAndGlyphs">Photodamage risk</text>
<text x="80.00" y="469.50" font-size="9" text-anchor="middle" textLength="42.30" lengthAdjust="spacingAndGlyphs">asessment</text>
<text x="7.80" y="391.30" font-size="9" text-anchor="middle" textLength="21.00" lengthAdjust="spacingAndGlyphs" transform="rotate(-90 7.80 391.30)">W_F1</text>
<line x1="170.50" y1="336.60" x2="170.50" y2="449.80" stroke="#7c7c7c" stroke-width="0.9"/>
<line x1="170.05" y1="449.30" x2="274.00" y2="449.30" stroke="#7c7c7c" stroke-width="0.9"/>
<line x1="167.90" y1="346.30" x2="170.50" y2="346.30" stroke="#7c7c7c" stroke-width="0.8"/>
<text x="164.20" y="348.70" font-size="6.8" text-anchor="end" textLength="13.83" lengthAdjust="spacingAndGlyphs">1.05</text>
<line x1="167.90" y1="366.90" x2="170.50" y2="366.90" stroke="#7c7c7c" stroke-width="0.8"/>
<text x="164.20" y="369.30" font-size="6.8" text-anchor="end" textLength="13.83" lengthAdjust="spacingAndGlyphs">1.00</text>
<line x1="167.90" y1="387.50" x2="170.50" y2="387.50" stroke="#7c7c7c" stroke-width="0.8"/>
<text x="164.20" y="389.90" font-size="6.8" text-anchor="end" textLength="13.83" lengthAdjust="spacingAndGlyphs">0.95</text>
<line x1="167.90" y1="408.10" x2="170.50" y2="408.10" stroke="#7c7c7c" stroke-width="0.8"/>
<text x="164.20" y="410.50" font-size="6.8" text-anchor="end" textLength="13.83" lengthAdjust="spacingAndGlyphs">0.90</text>
<line x1="167.90" y1="428.70" x2="170.50" y2="428.70" stroke="#7c7c7c" stroke-width="0.8"/>
<text x="164.20" y="431.10" font-size="6.8" text-anchor="end" textLength="13.83" lengthAdjust="spacingAndGlyphs">0.85</text>
<line x1="167.90" y1="449.30" x2="170.50" y2="449.30" stroke="#7c7c7c" stroke-width="0.8"/>
<text x="164.20" y="451.70" font-size="6.8" text-anchor="end" textLength="13.83" lengthAdjust="spacingAndGlyphs">0.80</text>
<rect x="175.40" y="375.55" width="23.50" height="73.75" fill="#99cdb4"/>
<rect x="198.90" y="375.55" width="23.70" height="73.75" fill="#ebae8d"/>
<rect x="222.60" y="378.02" width="23.60" height="71.28" fill="#a6aed5"/>
<rect x="246.20" y="374.32" width="23.60" height="74.98" fill="#989898"/>
<line x1="187.15" y1="373.08" x2="187.15" y2="378.44" stroke="#333" stroke-width="0.7"/>
<line x1="185.55" y1="373.08" x2="188.75" y2="373.08" stroke="#333" stroke-width="0.7"/>
<line x1="185.55" y1="378.44" x2="188.75" y2="378.44" stroke="#333" stroke-width="0.7"/>
<line x1="210.75" y1="374.32" x2="210.75" y2="376.38" stroke="#333" stroke-width="0.7"/>
<line x1="209.15" y1="374.32" x2="212.35" y2="374.32" stroke="#333" stroke-width="0.7"/>
<line x1="209.15" y1="376.38" x2="212.35" y2="376.38" stroke="#333" stroke-width="0.7"/>
<line x1="234.40" y1="375.96" x2="234.40" y2="380.08" stroke="#333" stroke-width="0.7"/>
<line x1="232.80" y1="375.96" x2="236.00" y2="375.96" stroke="#333" stroke-width="0.7"/>
<line x1="232.80" y1="380.08" x2="236.00" y2="380.08" stroke="#333" stroke-width="0.7"/>
<line x1="258.00" y1="372.26" x2="258.00" y2="375.96" stroke="#333" stroke-width="0.7"/>
<line x1="256.40" y1="372.26" x2="259.60" y2="372.26" stroke="#333" stroke-width="0.7"/>
<line x1="256.40" y1="375.96" x2="259.60" y2="375.96" stroke="#333" stroke-width="0.7"/>
<line x1="209.80" y1="360.30" x2="257.10" y2="360.30" stroke="#333" stroke-width="0.8"/>
<text x="217.70" y="356.90" font-size="7" font-style="italic">P</text>
<text x="223.50" y="356.90" font-size="7" textLength="25.10" lengthAdjust="spacingAndGlyphs">&lt; 0.001</text>
<text x="222.20" y="458.90" font-size="9" text-anchor="middle" textLength="62.20" lengthAdjust="spacingAndGlyphs">Nevus counting</text>
<text x="143.10" y="392.50" font-size="9" text-anchor="middle" textLength="29.50" lengthAdjust="spacingAndGlyphs" transform="rotate(-90 143.10 392.50)">AUROC</text>
<line x1="313.10" y1="344.70" x2="313.10" y2="449.80" stroke="#7c7c7c" stroke-width="0.9"/>
<line x1="312.65" y1="449.30" x2="405.60" y2="449.30" stroke="#7c7c7c" stroke-width="0.9"/>
<line x1="310.10" y1="345.00" x2="313.10" y2="345.00" stroke="#7c7c7c" stroke-width="0.8"/>
<text x="307.40" y="347.40" font-size="6.8" text-anchor="end" textLength="10.40" lengthAdjust="spacingAndGlyphs">1.0</text>
<line x1="310.10" y1="365.86" x2="313.10" y2="365.86" stroke="#7c7c7c" stroke-width="0.8"/>
<text x="307.40" y="368.26" font-size="6.8" text-anchor="end" textLength="10.40" lengthAdjust="spacingAndGlyphs">0.8</text>
<line x1="310.10" y1="386.72" x2="313.10" y2="386.72" stroke="#7c7c7c" stroke-width="0.8"/>
<text x="307.40" y="389.12" font-size="6.8" text-anchor="end" textLength="10.40" lengthAdjust="spacingAndGlyphs">0.6</text>
<line x1="310.10" y1="407.58" x2="313.10" y2="407.58" stroke="#7c7c7c" stroke-width="0.8"/>
<text x="307.40" y="409.98" font-size="6.8" text-anchor="end" textLength="10.40" lengthAdjust="spacingAndGlyphs">0.4</text>
<line x1="310.10" y1="428.44" x2="313.10" y2="428.44" stroke="#7c7c7c" stroke-width="0.8"/>
<text x="307.40" y="430.84" font-size="6.8" text-anchor="end" textLength="10.40" lengthAdjust="spacingAndGlyphs">0.2</text>
<line x1="310.10" y1="449.30" x2="313.10" y2="449.30" stroke="#7c7c7c" stroke-width="0.8"/>
<text x="307.40" y="451.70" font-size="6.8" text-anchor="end" textLength="4.30" lengthAdjust="spacingAndGlyphs">0</text>
<line x1="311.50" y1="444.09" x2="313.10" y2="444.09" stroke="#7c7c7c" stroke-width="0.7"/>
<line x1="311.50" y1="438.87" x2="313.10" y2="438.87" stroke="#7c7c7c" stroke-width="0.7"/>
<line x1="311.50" y1="433.66" x2="313.10" y2="433.66" stroke="#7c7c7c" stroke-width="0.7"/>
<line x1="311.50" y1="423.23" x2="313.10" y2="423.23" stroke="#7c7c7c" stroke-width="0.7"/>
<line x1="311.50" y1="418.01" x2="313.10" y2="418.01" stroke="#7c7c7c" stroke-width="0.7"/>
<line x1="311.50" y1="412.80" x2="313.10" y2="412.80" stroke="#7c7c7c" stroke-width="0.7"/>
<line x1="311.50" y1="402.37" x2="313.10" y2="402.37" stroke="#7c7c7c" stroke-width="0.7"/>
<line x1="311.50" y1="397.15" x2="313.10" y2="397.15" stroke="#7c7c7c" stroke-width="0.7"/>
<line x1="311.50" y1="391.94" x2="313.10" y2="391.94" stroke="#7c7c7c" stroke-width="0.7"/>
<line x1="311.50" y1="381.50" x2="313.10" y2="381.50" stroke="#7c7c7c" stroke-width="0.7"/>
<line x1="311.50" y1="376.29" x2="313.10" y2="376.29" stroke="#7c7c7c" stroke-width="0.7"/>
<line x1="311.50" y1="371.08" x2="313.10" y2="371.08" stroke="#7c7c7c" stroke-width="0.7"/>
<line x1="311.50" y1="360.64" x2="313.10" y2="360.64" stroke="#7c7c7c" stroke-width="0.7"/>
<line x1="311.50" y1="355.43" x2="313.10" y2="355.43" stroke="#7c7c7c" stroke-width="0.7"/>
<line x1="311.50" y1="350.22" x2="313.10" y2="350.22" stroke="#7c7c7c" stroke-width="0.7"/>
<rect x="317.60" y="378.38" width="20.90" height="70.92" fill="#99cdb4"/>
<rect x="338.50" y="378.90" width="20.90" height="70.40" fill="#ebae8d"/>
<rect x="359.40" y="379.73" width="20.90" height="69.57" fill="#a6aed5"/>
<rect x="380.30" y="376.29" width="20.90" height="73.01" fill="#989898"/>
<line x1="328.05" y1="377.48" x2="328.05" y2="379.28" stroke="#333" stroke-width="0.8"/>
<line x1="327.05" y1="377.48" x2="329.05" y2="377.48" stroke="#333" stroke-width="0.8"/>
<line x1="327.05" y1="379.28" x2="329.05" y2="379.28" stroke="#333" stroke-width="0.8"/>
<line x1="348.95" y1="378.00" x2="348.95" y2="379.80" stroke="#333" stroke-width="0.8"/>
<line x1="347.95" y1="378.00" x2="349.95" y2="378.00" stroke="#333" stroke-width="0.8"/>
<line x1="347.95" y1="379.80" x2="349.95" y2="379.80" stroke="#333" stroke-width="0.8"/>
<line x1="369.85" y1="378.83" x2="369.85" y2="380.63" stroke="#333" stroke-width="0.8"/>
<line x1="368.85" y1="378.83" x2="370.85" y2="378.83" stroke="#333" stroke-width="0.8"/>
<line x1="368.85" y1="380.63" x2="370.85" y2="380.63" stroke="#333" stroke-width="0.8"/>
<line x1="390.75" y1="375.39" x2="390.75" y2="377.19" stroke="#333" stroke-width="0.8"/>
<line x1="389.75" y1="375.39" x2="391.75" y2="375.39" stroke="#333" stroke-width="0.8"/>
<line x1="389.75" y1="377.19" x2="391.75" y2="377.19" stroke="#333" stroke-width="0.8"/>
<line x1="328.20" y1="372.60" x2="390.80" y2="372.60" stroke="#333" stroke-width="0.8"/>
<text x="344.00" y="368.80" font-size="7" font-style="italic">P</text>
<text x="349.80" y="368.80" font-size="7" textLength="24.90" lengthAdjust="spacingAndGlyphs">&lt; 0.001</text>
<text x="359.40" y="459.90" font-size="9" text-anchor="middle" textLength="59.40" lengthAdjust="spacingAndGlyphs">Risk prediction</text>
<text x="291.20" y="397.30" font-size="9" text-anchor="middle" textLength="29.50" lengthAdjust="spacingAndGlyphs" transform="rotate(-90 291.20 397.30)">AUROC</text>
<line x1="440.20" y1="344.70" x2="440.20" y2="449.80" stroke="#7c7c7c" stroke-width="0.9"/>
<line x1="439.75" y1="449.30" x2="532.30" y2="449.30" stroke="#7c7c7c" stroke-width="0.9"/>
<line x1="437.20" y1="345.00" x2="440.20" y2="345.00" stroke="#7c7c7c" stroke-width="0.8"/>
<text x="433.50" y="347.40" font-size="6.8" text-anchor="end" textLength="10.40" lengthAdjust="spacingAndGlyphs">1.0</text>
<line x1="437.20" y1="365.86" x2="440.20" y2="365.86" stroke="#7c7c7c" stroke-width="0.8"/>
<text x="433.50" y="368.26" font-size="6.8" text-anchor="end" textLength="10.40" lengthAdjust="spacingAndGlyphs">0.8</text>
<line x1="437.20" y1="386.72" x2="440.20" y2="386.72" stroke="#7c7c7c" stroke-width="0.8"/>
<text x="433.50" y="389.12" font-size="6.8" text-anchor="end" textLength="10.40" lengthAdjust="spacingAndGlyphs">0.6</text>
<line x1="437.20" y1="407.58" x2="440.20" y2="407.58" stroke="#7c7c7c" stroke-width="0.8"/>
<text x="433.50" y="409.98" font-size="6.8" text-anchor="end" textLength="10.40" lengthAdjust="spacingAndGlyphs">0.4</text>
<line x1="437.20" y1="428.44" x2="440.20" y2="428.44" stroke="#7c7c7c" stroke-width="0.8"/>
<text x="433.50" y="430.84" font-size="6.8" text-anchor="end" textLength="10.40" lengthAdjust="spacingAndGlyphs">0.2</text>
<line x1="437.20" y1="449.30" x2="440.20" y2="449.30" stroke="#7c7c7c" stroke-width="0.8"/>
<text x="433.50" y="451.70" font-size="6.8" text-anchor="end" textLength="4.30" lengthAdjust="spacingAndGlyphs">0</text>
<line x1="438.60" y1="444.09" x2="440.20" y2="444.09" stroke="#7c7c7c" stroke-width="0.7"/>
<line x1="438.60" y1="438.87" x2="440.20" y2="438.87" stroke="#7c7c7c" stroke-width="0.7"/>
<line x1="438.60" y1="433.66" x2="440.20" y2="433.66" stroke="#7c7c7c" stroke-width="0.7"/>
<line x1="438.60" y1="423.23" x2="440.20" y2="423.23" stroke="#7c7c7c" stroke-width="0.7"/>
<line x1="438.60" y1="418.01" x2="440.20" y2="418.01" stroke="#7c7c7c" stroke-width="0.7"/>
<line x1="438.60" y1="412.80" x2="440.20" y2="412.80" stroke="#7c7c7c" stroke-width="0.7"/>
<line x1="438.60" y1="402.37" x2="440.20" y2="402.37" stroke="#7c7c7c" stroke-width="0.7"/>
<line x1="438.60" y1="397.15" x2="440.20" y2="397.15" stroke="#7c7c7c" stroke-width="0.7"/>
<line x1="438.60" y1="391.94" x2="440.20" y2="391.94" stroke="#7c7c7c" stroke-width="0.7"/>
<line x1="438.60" y1="381.50" x2="440.20" y2="381.50" stroke="#7c7c7c" stroke-width="0.7"/>
<line x1="438.60" y1="376.29" x2="440.20" y2="376.29" stroke="#7c7c7c" stroke-width="0.7"/>
<line x1="438.60" y1="371.08" x2="440.20" y2="371.08" stroke="#7c7c7c" stroke-width="0.7"/>
<line x1="438.60" y1="360.64" x2="440.20" y2="360.64" stroke="#7c7c7c" stroke-width="0.7"/>
<line x1="438.60" y1="355.43" x2="440.20" y2="355.43" stroke="#7c7c7c" stroke-width="0.7"/>
<line x1="438.60" y1="350.22" x2="440.20" y2="350.22" stroke="#7c7c7c" stroke-width="0.7"/>
<rect x="444.50" y="384.95" width="20.90" height="64.35" fill="#99cdb4"/>
<rect x="465.40" y="387.76" width="20.90" height="61.54" fill="#ebae8d"/>
<rect x="486.30" y="385.68" width="20.90" height="63.62" fill="#a6aed5"/>
<rect x="507.20" y="380.98" width="20.90" height="68.32" fill="#989898"/>
<line x1="454.95" y1="384.05" x2="454.95" y2="385.85" stroke="#333" stroke-width="0.8"/>
<line x1="453.95" y1="384.05" x2="455.95" y2="384.05" stroke="#333" stroke-width="0.8"/>
<line x1="453.95" y1="385.85" x2="455.95" y2="385.85" stroke="#333" stroke-width="0.8"/>
<line x1="475.85" y1="386.86" x2="475.85" y2="388.66" stroke="#333" stroke-width="0.8"/>
<line x1="474.85" y1="386.86" x2="476.85" y2="386.86" stroke="#333" stroke-width="0.8"/>
<line x1="474.85" y1="388.66" x2="476.85" y2="388.66" stroke="#333" stroke-width="0.8"/>
<line x1="496.75" y1="384.78" x2="496.75" y2="386.58" stroke="#333" stroke-width="0.8"/>
<line x1="495.75" y1="384.78" x2="497.75" y2="384.78" stroke="#333" stroke-width="0.8"/>
<line x1="495.75" y1="386.58" x2="497.75" y2="386.58" stroke="#333" stroke-width="0.8"/>
<line x1="517.65" y1="380.08" x2="517.65" y2="381.88" stroke="#333" stroke-width="0.8"/>
<line x1="516.65" y1="380.08" x2="518.65" y2="380.08" stroke="#333" stroke-width="0.8"/>
<line x1="516.65" y1="381.88" x2="518.65" y2="381.88" stroke="#333" stroke-width="0.8"/>
<line x1="454.90" y1="378.20" x2="517.60" y2="378.20" stroke="#333" stroke-width="0.8"/>
<text x="471.00" y="374.10" font-size="7" font-style="italic">P</text>
<text x="476.80" y="374.10" font-size="7" textLength="24.70" lengthAdjust="spacingAndGlyphs">&lt; 0.001</text>
<text x="486.00" y="460.40" font-size="9" text-anchor="middle" textLength="59.10" lengthAdjust="spacingAndGlyphs">Risk prediction</text>
<text x="418.60" y="397.00" font-size="9" text-anchor="middle" textLength="22.00" lengthAdjust="spacingAndGlyphs" transform="rotate(-90 418.60 397.00)">BACC</text>
<circle cx="572.9" cy="341.9" r="1.4" fill="#f08a3a"/>
<text x="576.50" y="344.50" font-size="7.5" textLength="29.50" lengthAdjust="spacingAndGlyphs">High risk</text>
<circle cx="616.3" cy="341.9" r="1.4" fill="#3a7cc0"/>
<text x="620.40" y="344.50" font-size="7.5" textLength="27.70" lengthAdjust="spacingAndGlyphs">Low risk</text>
<line x1="29.40" y1="512.30" x2="29.40" y2="588.50" stroke="#7c7c7c" stroke-width="0.9"/>
<line x1="28.95" y1="588.00" x2="126.80" y2="588.00" stroke="#7c7c7c" stroke-width="0.9"/>
<line x1="26.80" y1="513.30" x2="29.40" y2="513.30" stroke="#7c7c7c" stroke-width="0.8"/>
<text x="24.70" y="515.70" font-size="7" text-anchor="end" textLength="9.90" lengthAdjust="spacingAndGlyphs">1.0</text>
<line x1="26.80" y1="528.24" x2="29.40" y2="528.24" stroke="#7c7c7c" stroke-width="0.8"/>
<text x="24.70" y="530.64" font-size="7" text-anchor="end" textLength="9.90" lengthAdjust="spacingAndGlyphs">0.9</text>
<line x1="26.80" y1="543.18" x2="29.40" y2="543.18" stroke="#7c7c7c" stroke-width="0.8"/>
<text x="24.70" y="545.58" font-size="7" text-anchor="end" textLength="9.90" lengthAdjust="spacingAndGlyphs">0.8</text>
<line x1="26.80" y1="558.12" x2="29.40" y2="558.12" stroke="#7c7c7c" stroke-width="0.8"/>
<text x="24.70" y="560.52" font-size="7" text-anchor="end" textLength="9.90" lengthAdjust="spacingAndGlyphs">0.7</text>
<line x1="26.80" y1="573.06" x2="29.40" y2="573.06" stroke="#7c7c7c" stroke-width="0.8"/>
<text x="24.70" y="575.46" font-size="7" text-anchor="end" textLength="9.90" lengthAdjust="spacingAndGlyphs">0.6</text>
<line x1="26.80" y1="588.00" x2="29.40" y2="588.00" stroke="#7c7c7c" stroke-width="0.8"/>
<text x="24.70" y="590.40" font-size="7" text-anchor="end" textLength="9.90" lengthAdjust="spacingAndGlyphs">0.5</text>
<rect x="35.10" y="561.26" width="22.90" height="26.74" fill="#99cdb4"/>
<rect x="58.00" y="561.26" width="23.00" height="26.74" fill="#ebae8d"/>
<rect x="81.00" y="577.39" width="23.00" height="10.61" fill="#a6aed5"/>
<rect x="104.00" y="556.03" width="22.80" height="31.97" fill="#989898"/>
<text x="47.35" y="558.66" font-size="6.6" text-anchor="middle" textLength="18.40" lengthAdjust="spacingAndGlyphs">0.679</text>
<text x="70.30" y="558.66" font-size="6.6" text-anchor="middle" textLength="18.40" lengthAdjust="spacingAndGlyphs">0.679</text>
<text x="93.30" y="574.79" font-size="6.6" text-anchor="middle" textLength="18.40" lengthAdjust="spacingAndGlyphs">0.571</text>
<text x="116.20" y="553.43" font-size="6.6" text-anchor="middle" textLength="18.40" lengthAdjust="spacingAndGlyphs">0.714</text>
<text x="45.50" y="596.90" font-size="6.8" text-anchor="middle" textLength="19.00" lengthAdjust="spacingAndGlyphs">2,450</text>
<text x="68.90" y="596.90" font-size="6.8" text-anchor="middle" textLength="17.10" lengthAdjust="spacingAndGlyphs">1,886</text>
<text x="91.40" y="596.90" font-size="6.8" text-anchor="middle" textLength="16.50" lengthAdjust="spacingAndGlyphs">1,974</text>
<text x="116.20" y="596.90" font-size="6.8" text-anchor="middle" textLength="18.00" lengthAdjust="spacingAndGlyphs">2,233</text>
<text x="76.40" y="512.00" font-size="6.6" text-anchor="middle" textLength="44.60" lengthAdjust="spacingAndGlyphs">TBP tiles only</text>
<text x="81.10" y="609.80" font-size="9" text-anchor="middle" textLength="65.50" lengthAdjust="spacingAndGlyphs">Malignant lesion</text>
<text x="81.00" y="619.40" font-size="9" text-anchor="middle" textLength="36.00" lengthAdjust="spacingAndGlyphs">screening</text>
<text x="8.30" y="550.30" font-size="9" text-anchor="middle" textLength="81.10" lengthAdjust="spacingAndGlyphs" transform="rotate(-90 8.30 550.30)">Malignant sensitivity</text>
<line x1="164.60" y1="512.30" x2="164.60" y2="588.50" stroke="#7c7c7c" stroke-width="0.9"/>
<line x1="164.15" y1="588.00" x2="265.70" y2="588.00" stroke="#7c7c7c" stroke-width="0.9"/>
<line x1="162.00" y1="513.30" x2="164.60" y2="513.30" stroke="#7c7c7c" stroke-width="0.8"/>
<text x="158.90" y="515.70" font-size="7" text-anchor="end" textLength="9.60" lengthAdjust="spacingAndGlyphs">1.0</text>
<line x1="162.00" y1="528.24" x2="164.60" y2="528.24" stroke="#7c7c7c" stroke-width="0.8"/>
<text x="158.90" y="530.64" font-size="7" text-anchor="end" textLength="9.60" lengthAdjust="spacingAndGlyphs">0.9</text>
<line x1="162.00" y1="543.18" x2="164.60" y2="543.18" stroke="#7c7c7c" stroke-width="0.8"/>
<text x="158.90" y="545.58" font-size="7" text-anchor="end" textLength="9.60" lengthAdjust="spacingAndGlyphs">0.8</text>
<line x1="162.00" y1="558.12" x2="164.60" y2="558.12" stroke="#7c7c7c" stroke-width="0.8"/>
<text x="158.90" y="560.52" font-size="7" text-anchor="end" textLength="9.60" lengthAdjust="spacingAndGlyphs">0.7</text>
<line x1="162.00" y1="573.06" x2="164.60" y2="573.06" stroke="#7c7c7c" stroke-width="0.8"/>
<text x="158.90" y="575.46" font-size="7" text-anchor="end" textLength="9.60" lengthAdjust="spacingAndGlyphs">0.6</text>
<line x1="162.00" y1="588.00" x2="164.60" y2="588.00" stroke="#7c7c7c" stroke-width="0.8"/>
<text x="158.90" y="590.40" font-size="7" text-anchor="end" textLength="9.60" lengthAdjust="spacingAndGlyphs">0.5</text>
<rect x="169.50" y="540.04" width="22.80" height="47.96" fill="#99cdb4"/>
<rect x="192.30" y="540.04" width="22.90" height="47.96" fill="#ebae8d"/>
<rect x="215.20" y="534.66" width="22.80" height="53.34" fill="#a6aed5"/>
<rect x="238.00" y="529.29" width="22.80" height="58.71" fill="#989898"/>
<text x="181.70" y="537.44" font-size="6.6" text-anchor="middle" textLength="18.40" lengthAdjust="spacingAndGlyphs">0.821</text>
<text x="204.55" y="537.44" font-size="6.6" text-anchor="middle" textLength="18.40" lengthAdjust="spacingAndGlyphs">0.821</text>
<text x="227.40" y="532.06" font-size="6.6" text-anchor="middle" textLength="18.40" lengthAdjust="spacingAndGlyphs">0.857</text>
<text x="250.20" y="526.69" font-size="6.6" text-anchor="middle" textLength="18.40" lengthAdjust="spacingAndGlyphs">0.893</text>
<text x="180.50" y="596.90" font-size="6.8" text-anchor="middle" textLength="18.00" lengthAdjust="spacingAndGlyphs">3,601</text>
<text x="203.30" y="596.90" font-size="6.8" text-anchor="middle" textLength="18.00" lengthAdjust="spacingAndGlyphs">3,092</text>
<text x="225.90" y="596.90" font-size="6.8" text-anchor="middle" textLength="17.50" lengthAdjust="spacingAndGlyphs">3,212</text>
<text x="250.20" y="596.90" font-size="6.8" text-anchor="middle" textLength="19.00" lengthAdjust="spacingAndGlyphs">3,498</text>
<text x="215.40" y="512.00" font-size="6.6" text-anchor="middle" textLength="78.70" lengthAdjust="spacingAndGlyphs">TBP tiles with metadata</text>
<text x="215.50" y="609.80" font-size="9" text-anchor="middle" textLength="65.50" lengthAdjust="spacingAndGlyphs">Malignant lesion</text>
<text x="215.00" y="619.40" font-size="9" text-anchor="middle" textLength="36.00" lengthAdjust="spacingAndGlyphs">screening</text>
<text x="143.30" y="550.30" font-size="9" text-anchor="middle" textLength="81.10" lengthAdjust="spacingAndGlyphs" transform="rotate(-90 143.30 550.30)">Malignant sensitivity</text>
<line x1="306.50" y1="505.50" x2="306.50" y2="596.50" stroke="#7c7c7c" stroke-width="0.9"/>
<line x1="306.05" y1="596.00" x2="400.50" y2="596.00" stroke="#7c7c7c" stroke-width="0.9"/>
<line x1="303.90" y1="506.00" x2="306.50" y2="506.00" stroke="#7c7c7c" stroke-width="0.8"/>
<text x="301.20" y="508.40" font-size="7" text-anchor="end" textLength="10.60" lengthAdjust="spacingAndGlyphs">1.0</text>
<line x1="303.90" y1="524.00" x2="306.50" y2="524.00" stroke="#7c7c7c" stroke-width="0.8"/>
<text x="301.20" y="526.40" font-size="7" text-anchor="end" textLength="10.60" lengthAdjust="spacingAndGlyphs">0.8</text>
<line x1="303.90" y1="542.00" x2="306.50" y2="542.00" stroke="#7c7c7c" stroke-width="0.8"/>
<text x="301.20" y="544.40" font-size="7" text-anchor="end" textLength="10.60" lengthAdjust="spacingAndGlyphs">0.6</text>
<line x1="303.90" y1="560.00" x2="306.50" y2="560.00" stroke="#7c7c7c" stroke-width="0.8"/>
<text x="301.20" y="562.40" font-size="7" text-anchor="end" textLength="10.60" lengthAdjust="spacingAndGlyphs">0.4</text>
<line x1="303.90" y1="578.00" x2="306.50" y2="578.00" stroke="#7c7c7c" stroke-width="0.8"/>
<text x="301.20" y="580.40" font-size="7" text-anchor="end" textLength="10.60" lengthAdjust="spacingAndGlyphs">0.2</text>
<line x1="303.90" y1="596.00" x2="306.50" y2="596.00" stroke="#7c7c7c" stroke-width="0.8"/>
<text x="301.20" y="598.40" font-size="7" text-anchor="end" textLength="4.30" lengthAdjust="spacingAndGlyphs">0</text>
<rect x="311.00" y="534.93" width="21.20" height="61.07" fill="#99cdb4"/>
<rect x="332.20" y="534.93" width="21.80" height="61.07" fill="#ebae8d"/>
<rect x="354.00" y="544.57" width="21.80" height="51.43" fill="#a6aed5"/>
<rect x="375.80" y="531.71" width="21.10" height="64.29" fill="#989898"/>
<text x="322.20" y="532.13" font-size="6.8" text-anchor="middle" textLength="18.00" lengthAdjust="spacingAndGlyphs">19/28</text>
<text x="343.70" y="532.13" font-size="6.8" text-anchor="middle" textLength="18.00" lengthAdjust="spacingAndGlyphs">19/28</text>
<text x="365.50" y="541.77" font-size="6.8" text-anchor="middle" textLength="18.00" lengthAdjust="spacingAndGlyphs">16/28</text>
<text x="386.95" y="528.91" font-size="6.8" text-anchor="middle" textLength="18.00" lengthAdjust="spacingAndGlyphs">20/28</text>
<text x="352.85" y="504.70" font-size="6.6" text-anchor="middle" textLength="44.50" lengthAdjust="spacingAndGlyphs">TBP tiles only</text>
<text x="353.80" y="607.40" font-size="9" text-anchor="middle" textLength="65.50" lengthAdjust="spacingAndGlyphs">Malignant lesion</text>
<text x="354.00" y="617.00" font-size="9" text-anchor="middle" textLength="36.00" lengthAdjust="spacingAndGlyphs">detection</text>
<text x="284.60" y="551.50" font-size="9" text-anchor="middle" textLength="92.80" lengthAdjust="spacingAndGlyphs" transform="rotate(-90 284.60 551.50)">Found malignant lesion</text>
<line x1="438.20" y1="505.50" x2="438.20" y2="596.50" stroke="#7c7c7c" stroke-width="0.9"/>
<line x1="437.75" y1="596.00" x2="533.50" y2="596.00" stroke="#7c7c7c" stroke-width="0.9"/>
<line x1="435.60" y1="506.00" x2="438.20" y2="506.00" stroke="#7c7c7c" stroke-width="0.8"/>
<text x="432.00" y="508.40" font-size="7" text-anchor="end" textLength="10.00" lengthAdjust="spacingAndGlyphs">1.0</text>
<line x1="435.60" y1="524.00" x2="438.20" y2="524.00" stroke="#7c7c7c" stroke-width="0.8"/>
<text x="432.00" y="526.40" font-size="7" text-anchor="end" textLength="10.00" lengthAdjust="spacingAndGlyphs">0.8</text>
<line x1="435.60" y1="542.00" x2="438.20" y2="542.00" stroke="#7c7c7c" stroke-width="0.8"/>
<text x="432.00" y="544.40" font-size="7" text-anchor="end" textLength="10.00" lengthAdjust="spacingAndGlyphs">0.6</text>
<line x1="435.60" y1="560.00" x2="438.20" y2="560.00" stroke="#7c7c7c" stroke-width="0.8"/>
<text x="432.00" y="562.40" font-size="7" text-anchor="end" textLength="10.00" lengthAdjust="spacingAndGlyphs">0.4</text>
<line x1="435.60" y1="578.00" x2="438.20" y2="578.00" stroke="#7c7c7c" stroke-width="0.8"/>
<text x="432.00" y="580.40" font-size="7" text-anchor="end" textLength="10.00" lengthAdjust="spacingAndGlyphs">0.2</text>
<line x1="435.60" y1="596.00" x2="438.20" y2="596.00" stroke="#7c7c7c" stroke-width="0.8"/>
<text x="432.00" y="598.40" font-size="7" text-anchor="end" textLength="4.30" lengthAdjust="spacingAndGlyphs">0</text>
<rect x="443.00" y="522.07" width="21.30" height="73.93" fill="#99cdb4"/>
<rect x="464.30" y="522.07" width="21.60" height="73.93" fill="#ebae8d"/>
<rect x="485.90" y="518.86" width="21.80" height="77.14" fill="#a6aed5"/>
<rect x="507.70" y="515.64" width="21.30" height="80.36" fill="#989898"/>
<text x="454.85" y="518.77" font-size="6.8" text-anchor="middle" textLength="18.50" lengthAdjust="spacingAndGlyphs">23/28</text>
<text x="476.30" y="518.77" font-size="6.8" text-anchor="middle" textLength="18.50" lengthAdjust="spacingAndGlyphs">23/28</text>
<text x="498.00" y="515.56" font-size="6.8" text-anchor="middle" textLength="18.50" lengthAdjust="spacingAndGlyphs">24/28</text>
<text x="519.55" y="512.34" font-size="6.8" text-anchor="middle" textLength="18.50" lengthAdjust="spacingAndGlyphs">25/28</text>
<text x="480.60" y="504.50" font-size="6.6" text-anchor="middle" textLength="78.40" lengthAdjust="spacingAndGlyphs">TBP tiles with metadata</text>
<text x="483.00" y="607.10" font-size="9" text-anchor="middle" textLength="65.50" lengthAdjust="spacingAndGlyphs">Malignant lesion</text>
<text x="483.00" y="616.70" font-size="9" text-anchor="middle" textLength="36.00" lengthAdjust="spacingAndGlyphs">detection</text>
<text x="415.00" y="551.00" font-size="9" text-anchor="middle" textLength="92.80" lengthAdjust="spacingAndGlyphs" transform="rotate(-90 415.00 551.00)">Found malignant lesion</text>
<defs><linearGradient id="cb" x1="0" y1="1" x2="0" y2="0"><stop offset="0" stop-color="#4d8591"/><stop offset="0.17" stop-color="#6aa3a3"/><stop offset="0.33" stop-color="#94c6ae"/><stop offset="0.5" stop-color="#c6e1a0"/><stop offset="0.67" stop-color="#f3e88a"/><stop offset="0.83" stop-color="#f2a84a"/><stop offset="1" stop-color="#e5502a"/></linearGradient></defs>
<rect x="656.80" y="510.40" width="4.00" height="81.60" fill="url(#cb)"/>
<line x1="660.80" y1="592.00" x2="662.60" y2="592.00" stroke="#333" stroke-width="0.6"/>
<text x="665.60" y="594.40" font-size="7">0</text>
<line x1="660.80" y1="578.40" x2="662.60" y2="578.40" stroke="#333" stroke-width="0.6"/>
<text x="665.60" y="580.80" font-size="7">0.5</text>
<line x1="660.80" y1="564.80" x2="662.60" y2="564.80" stroke="#333" stroke-width="0.6"/>
<text x="665.60" y="567.20" font-size="7">1.0</text>
<line x1="660.80" y1="551.20" x2="662.60" y2="551.20" stroke="#333" stroke-width="0.6"/>
<text x="665.60" y="553.60" font-size="7">1.5</text>
<line x1="660.80" y1="537.60" x2="662.60" y2="537.60" stroke="#333" stroke-width="0.6"/>
<text x="665.60" y="540.00" font-size="7">2.0</text>
<line x1="660.80" y1="524.00" x2="662.60" y2="524.00" stroke="#333" stroke-width="0.6"/>
<text x="665.60" y="526.40" font-size="7">2.5</text>
<line x1="660.80" y1="510.40" x2="662.60" y2="510.40" stroke="#333" stroke-width="0.6"/>
<text x="665.60" y="512.80" font-size="7">3.0</text>
<text x="645.10" y="484.70" font-size="8" textLength="42.00" lengthAdjust="spacingAndGlyphs">Risk score</text>
</svg></body></html>
